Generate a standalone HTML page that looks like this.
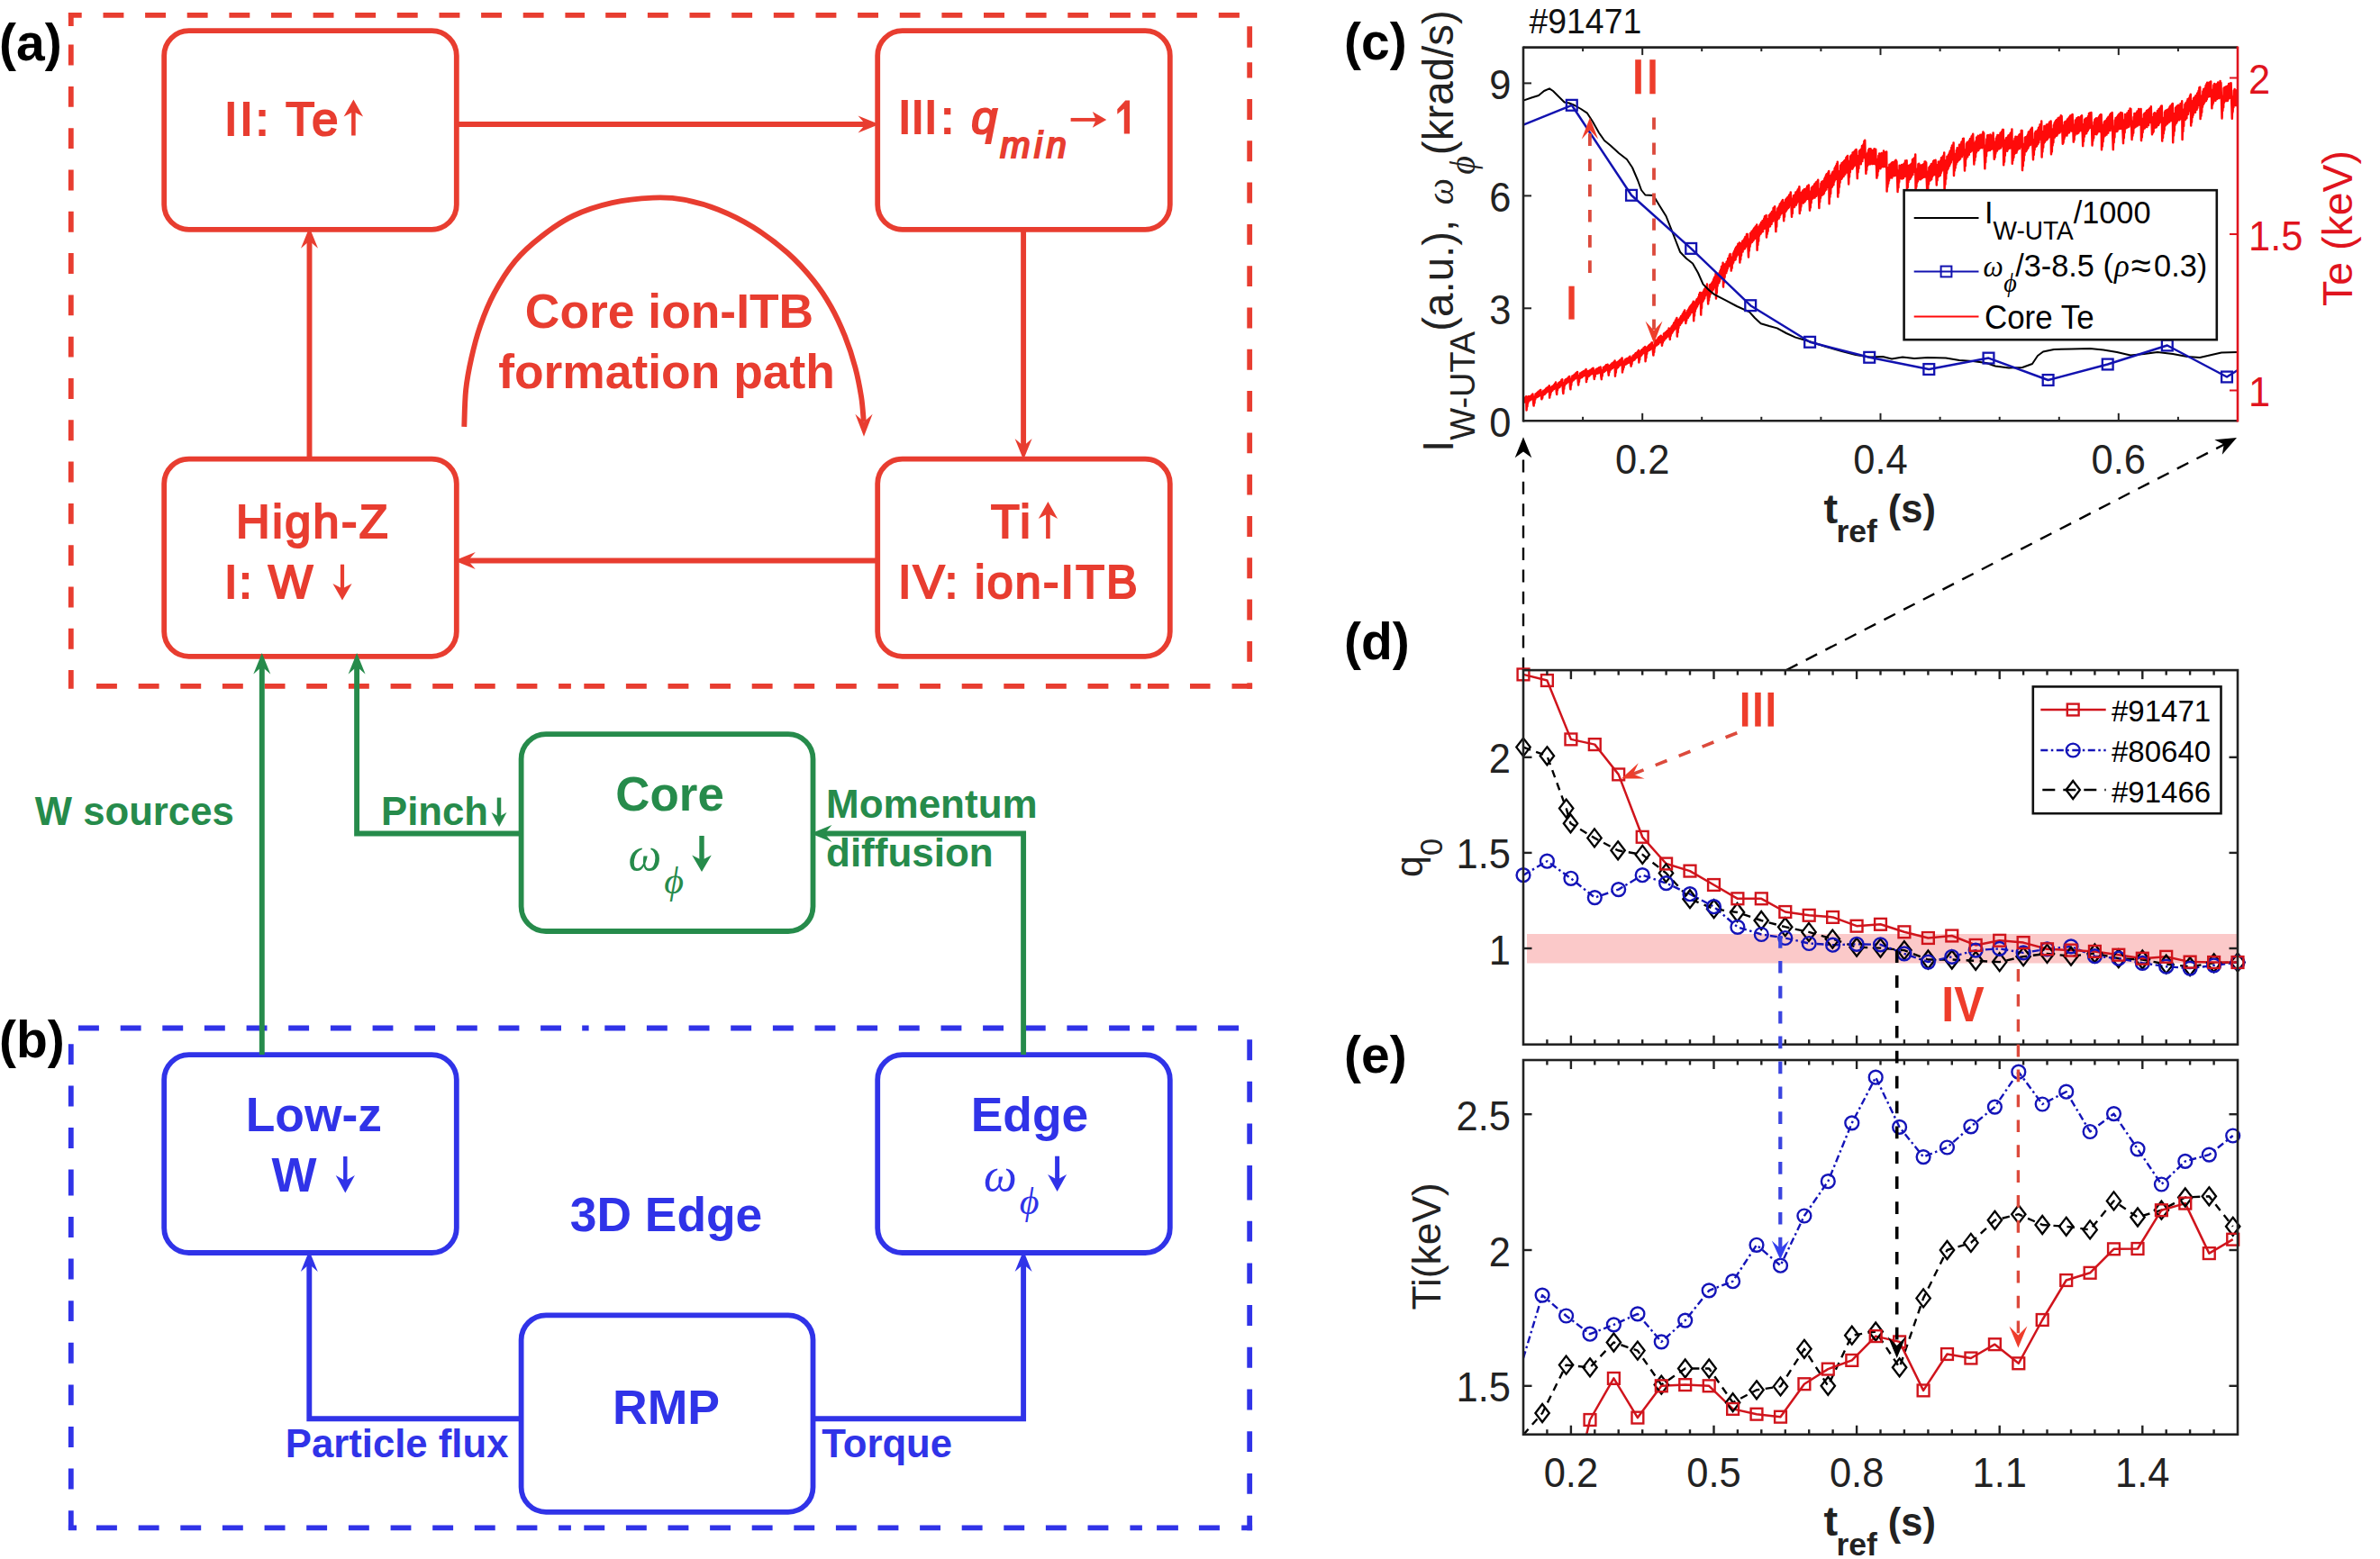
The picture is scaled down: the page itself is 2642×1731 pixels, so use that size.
<!DOCTYPE html>
<html><head><meta charset="utf-8"><title>figure</title>
<style>html,body{margin:0;padding:0;background:#fff}svg{display:block}text{white-space:pre}</style></head>
<body><svg xmlns="http://www.w3.org/2000/svg" width="2642" height="1731" viewBox="0 0 2642 1731">
<rect width="2642" height="1731" fill="#fff"/>
<path d="M75.9,16.9 H90.7 M114.5,16.9 H137.4 M161.1,16.9 H184 M207.7,16.9 H230.6 M254.4,16.9 H277.3 M301,16.9 H323.9 M347.6,16.9 H370.5 M394.2,16.9 H417.1 M440.8,16.9 H463.7 M487.5,16.9 H510.4 M534.1,16.9 H557 M580.7,16.9 H603.6 M627.4,16.9 H649 M672.2,16.9 H695.1 M718.9,16.9 H741.8 M765.5,16.9 H788.4 M812.2,16.9 H835.1 M858.8,16.9 H881.7 M905.5,16.9 H928.4 M952.1,16.9 H975 M998.8,16.9 H1021.6 M1045.4,16.9 H1068.3 M1092,16.9 H1115 M1138.7,16.9 H1161.6 M1185.3,16.9 H1208.2 M1232,16.9 H1254.9 M1268.1,16.9 H1282.7 M1306.2,16.9 H1328.9 M1352.8,16.9 H1375.9" fill="none" stroke="#E83D30" stroke-width="5.8"/>
<path d="M78.8,14 V28.9 M78.8,49.6 V72.5 M78.8,95.9 V118.8 M78.8,142.2 V165.1 M78.8,188.5 V211.4 M78.8,234.8 V257.7 M78.8,281.1 V304 M78.8,327.4 V350.3 M78.8,373.7 V396.6 M78.8,420 V442.9 M78.8,466.3 V489.2 M78.8,512.6 V535.5 M78.8,558.9 V581.8 M78.8,605.2 V628.1 M78.8,651.5 V674.4 M78.8,697.8 V720.7 M78.8,744 V764.7" fill="none" stroke="#E83D30" stroke-width="5.8"/>
<path d="M107,761.8 H129.9 M153.7,761.8 H176.6 M200.3,761.8 H223.2 M246.9,761.8 H269.8 M293.6,761.8 H316.5 M340.2,761.8 H363.1 M386.9,761.8 H409.8 M433.6,761.8 H456.4 M480.2,761.8 H503.1 M526.8,761.8 H549.7 M573.5,761.8 H596.4 M620.1,761.8 H633.9 M648.3,761.8 H671.2 M694.9,761.8 H717.8 M741.5,761.8 H764.4 M788.1,761.8 H811 M834.7,761.8 H857.6 M881.3,761.8 H904.2 M927.9,761.8 H950.8 M974.5,761.8 H997.4 M1021.1,761.8 H1044 M1067.7,761.8 H1090.6 M1114.3,761.8 H1137.2 M1160.9,761.8 H1183.8 M1207.5,761.8 H1230.4 M1254.7,761.8 H1266.5 M1274,761.8 H1297.6 M1321,761.8 H1343.5 M1367.5,761.8 H1390.1" fill="none" stroke="#E83D30" stroke-width="5.8"/>
<path d="M1387.2,29.3 V52.7 M1387.2,69.3 V86.6 M1387.2,110 V132.9 M1387.2,156.3 V179.2 M1387.2,202.6 V225.5 M1387.2,248.9 V271.8 M1387.2,295.2 V318.1 M1387.2,341.5 V364.4 M1387.2,387.8 V410.7 M1387.2,434.1 V457 M1387.2,480.4 V503.3 M1387.2,526.7 V549.6 M1387.2,573 V595.9 M1387.2,619.3 V642.2 M1387.2,665.6 V688.5 M1387.2,711.9 V734.8 M1387.2,758.2 V764.7" fill="none" stroke="#E83D30" stroke-width="5.8"/>
<path d="M87,1141.5 H109.9 M133.7,1141.5 H156.6 M180.3,1141.5 H203.2 M226.9,1141.5 H249.8 M273.6,1141.5 H296.5 M320.2,1141.5 H343.1 M366.9,1141.5 H389.8 M413.6,1141.5 H436.4 M460.2,1141.5 H483.1 M506.8,1141.5 H529.8 M553.5,1141.5 H576.4 M600.1,1141.5 H623 M646.2,1141.5 H653.6 M671.3,1141.5 H694.2 M717.9,1141.5 H740.8 M764.6,1141.5 H787.5 M811.2,1141.5 H834.1 M857.9,1141.5 H880.8 M904.5,1141.5 H927.4 M951.2,1141.5 H974.1 M997.8,1141.5 H1020.7 M1044.5,1141.5 H1067.4 M1091.1,1141.5 H1114 M1137.8,1141.5 H1160.7 M1184.4,1141.5 H1207.3 M1231.1,1141.5 H1254 M1268,1141.5 H1281.3 M1305.5,1141.5 H1328.5 M1352.1,1141.5 H1375.1" fill="none" stroke="#3033E8" stroke-width="5.8"/>
<path d="M78.8,1159.2 V1182.1 M78.8,1205.6 V1228.5 M78.8,1252 V1274.9 M78.8,1298.5 V1327.4 M78.8,1351 V1373.9 M78.8,1397.6 V1420.5 M78.8,1444.2 V1467.1 M78.8,1490.8 V1513.7 M78.8,1537.4 V1560.3 M78.8,1584 V1606.9 M78.8,1630.6 V1653.5 M78.8,1677.2 V1698.9" fill="none" stroke="#3033E8" stroke-width="5.8"/>
<path d="M75.9,1696.3 H85 M107,1696.3 H129.9 M153.7,1696.3 H176.6 M200.3,1696.3 H223.2 M246.9,1696.3 H269.8 M293.6,1696.3 H316.5 M340.2,1696.3 H363.1 M386.9,1696.3 H409.8 M433.6,1696.3 H456.4 M480.2,1696.3 H503.1 M526.8,1696.3 H549.7 M573.5,1696.3 H596.4 M620.1,1696.3 H633.9 M648.3,1696.3 H671.2 M694.9,1696.3 H717.8 M741.5,1696.3 H764.4 M788.1,1696.3 H811 M834.7,1696.3 H857.6 M881.3,1696.3 H904.2 M927.9,1696.3 H950.8 M974.5,1696.3 H997.4 M1021.1,1696.3 H1044 M1067.7,1696.3 H1090.6 M1114.3,1696.3 H1137.2 M1160.9,1696.3 H1183.8 M1207.5,1696.3 H1230.4 M1254.4,1696.3 H1267.9 M1284.1,1696.3 H1307.9 M1330.9,1696.3 H1353.9 M1378.2,1696.3 H1390.1" fill="none" stroke="#3033E8" stroke-width="5.8"/>
<path d="M1387.2,1154.3 V1177.2 M1387.2,1200.8 V1223.8 M1387.2,1247.4 V1270.3 M1387.2,1294.1 V1332.6 M1387.2,1355.7 V1378.6 M1387.2,1402.4 V1425.3 M1387.2,1449.1 V1472 M1387.2,1495.8 V1518.7 M1387.2,1542.5 V1565.4 M1387.2,1589.2 V1612.1 M1387.2,1635.9 V1658.8 M1387.2,1682.8 V1699.2" fill="none" stroke="#3033E8" stroke-width="5.8"/>
<rect x="182.2" y="34.2" width="324.6" height="220.6" rx="27.5" ry="27.5" fill="none" stroke="#E83D30" stroke-width="5.8"/>
<rect x="974.2" y="34.2" width="324.6" height="220.6" rx="27.5" ry="27.5" fill="none" stroke="#E83D30" stroke-width="5.8"/>
<rect x="182.2" y="509.6" width="324.6" height="219.2" rx="27.5" ry="27.5" fill="none" stroke="#E83D30" stroke-width="5.8"/>
<rect x="974.2" y="509.6" width="324.6" height="219.2" rx="27.5" ry="27.5" fill="none" stroke="#E83D30" stroke-width="5.8"/>
<rect x="578.6" y="815.2" width="323.9" height="218.8" rx="27.5" ry="27.5" fill="none" stroke="#268B4B" stroke-width="5.8"/>
<rect x="182.2" y="1171.2" width="324.6" height="219.8" rx="27.5" ry="27.5" fill="none" stroke="#3033E8" stroke-width="5.8"/>
<rect x="974.2" y="1171.2" width="324.6" height="219.8" rx="27.5" ry="27.5" fill="none" stroke="#3033E8" stroke-width="5.8"/>
<rect x="578.6" y="1460.3" width="323.9" height="218.5" rx="27.5" ry="27.5" fill="none" stroke="#3033E8" stroke-width="5.8"/>
<polyline points="507,138 961.9,138" fill="none" stroke="#E83D30" stroke-width="5.9" stroke-linejoin="miter" />
<polygon points="976,138 952.5,147.5 960.7,138 952.5,128.5" fill="#E83D30" />
<polyline points="1136.1,255 1136.1,496.4" fill="none" stroke="#E83D30" stroke-width="5.9" stroke-linejoin="miter" />
<polygon points="1136.1,510.5 1126.6,487 1136.1,495.2 1145.6,487" fill="#E83D30" />
<polyline points="974,622.5 518.4,622.5" fill="none" stroke="#E83D30" stroke-width="5.9" stroke-linejoin="miter" />
<polygon points="504.3,622.5 527.8,613 519.6,622.5 527.8,632" fill="#E83D30" />
<polyline points="343.5,509.5 343.5,266.4" fill="none" stroke="#E83D30" stroke-width="5.9" stroke-linejoin="miter" />
<polygon points="343.5,252.3 353,275.8 343.5,267.6 334,275.8" fill="#E83D30" />
<path d="M515.3,473.8 C515.6,467.1 515.8,446.1 517.1,433.4 C518.4,420.7 520.6,409.5 523.3,397.5 C526,385.5 529,373.6 533.2,361.6 C537.4,349.6 542.1,337.7 548.5,325.7 C554.9,313.7 563.1,300.3 571.8,289.8 C580.5,279.3 589.8,271.2 600.6,262.8 C611.4,254.4 623.3,245.8 636.5,239.5 C649.7,233.2 664.9,228.4 679.6,225.1 C694.3,221.8 711.3,220.2 724.5,219.6 C737.7,219 746.8,219.4 758.9,221.6 C771,223.8 784.6,227.6 797.4,232.7 C810.2,237.8 823,244 835.8,252 C848.6,260 863.1,270.9 874.3,280.8 C885.5,290.7 895.2,301.7 903.2,311.6 C911.2,321.6 916.7,330.2 922.5,340.5 C928.3,350.8 933.4,362 937.9,373.2 C942.4,384.4 946.4,396.7 949.4,407.9 C952.4,419.1 954.5,430.6 956.1,440.6 C957.7,450.6 958.3,463.4 958.8,468" fill="none" stroke="#E83D30" stroke-width="5.9"/>
<polygon points="959,484.8 949.4,459.8 959,468.6 968.6,459.8" fill="#E83D30" />
<polyline points="290.8,1171 290.8,739.1" fill="none" stroke="#268B4B" stroke-width="5.9" stroke-linejoin="miter" />
<polygon points="290.8,725 300.3,748.5 290.8,740.3 281.3,748.5" fill="#268B4B" />
<polyline points="578.5,925.5 396.1,925.5 396.1,739.1" fill="none" stroke="#268B4B" stroke-width="5.9" stroke-linejoin="miter" />
<polygon points="396.1,725 405.6,748.5 396.1,740.3 386.6,748.5" fill="#268B4B" />
<polyline points="1136.1,1171 1136.1,925.5 914.1,925.5" fill="none" stroke="#268B4B" stroke-width="5.9" stroke-linejoin="miter" />
<polygon points="900,925.5 923.5,916 915.3,925.5 923.5,935" fill="#268B4B" />
<polyline points="578.5,1575.2 343.3,1575.2 343.3,1402.6" fill="none" stroke="#3033E8" stroke-width="5.9" stroke-linejoin="miter" />
<polygon points="343.3,1388.5 352.8,1412 343.3,1403.8 333.8,1412" fill="#3033E8" />
<polyline points="902.5,1575.2 1136.1,1575.2 1136.1,1402.6" fill="none" stroke="#3033E8" stroke-width="5.9" stroke-linejoin="miter" />
<polygon points="1136.1,1388.5 1145.6,1412 1136.1,1403.8 1126.6,1412" fill="#3033E8" />
<text x="249" y="149.8" font-family="Liberation Sans" font-size="52.3" font-style="normal" fill="#E83D30" stroke="#E83D30" stroke-width="2.2" stroke-linejoin="miter" letter-spacing="2.8">II: Te</text>
<line x1="392.4" y1="150.5" x2="392.4" y2="122" stroke="#E83D30" stroke-width="4.6"/>
<polygon points="392.4,110.6 403.1,129.6 392.4,123.9 381.6,129.6" fill="#E83D30" />
<text x="997.1" y="147.5" font-family="Liberation Sans" font-size="52" font-style="normal" fill="#E83D30" stroke="#E83D30" stroke-width="2.2" stroke-linejoin="miter" letter-spacing="0">III</text>
<text x="1044.4" y="147.5" font-family="Liberation Sans" font-size="52" font-style="normal" fill="#E83D30" stroke="#E83D30" stroke-width="2.2" stroke-linejoin="miter" letter-spacing="0">:</text>
<text x="1078.2" y="147.5" font-family="Liberation Sans" font-size="52" font-style="italic" fill="#E83D30" stroke="#E83D30" stroke-width="2.2" stroke-linejoin="miter" letter-spacing="0">q</text>
<text x="1110.2" y="174.7" font-family="Liberation Sans" font-size="40" font-style="italic" fill="#E83D30" stroke="#E83D30" stroke-width="2.2" stroke-linejoin="miter" letter-spacing="4.6">min</text>
<line x1="1188.6" y1="132.9" x2="1220" y2="132.9" stroke="#E83D30" stroke-width="3.9"/>
<polygon points="1228.3,132.9 1212.8,141.7 1216.7,132.9 1212.8,124.1" fill="#E83D30" />
<path d="M1247.8,111.4 H1254.1 V148.6 H1247.8 V120.8 L1240.3,126.8 V121.3 L1249.3,111.4 Z" fill="#E83D30"/>
<text x="743" y="363.9" font-family="Liberation Sans" font-size="53.4" font-weight="bold" font-style="normal" fill="#E83D30" text-anchor="middle" >Core ion-ITB</text>
<text x="740" y="431.1" font-family="Liberation Sans" font-size="53.4" font-weight="bold" font-style="normal" fill="#E83D30" text-anchor="middle" >formation path</text>
<text x="262.1" y="596.9" font-family="Liberation Sans" font-size="52" font-style="normal" fill="#E83D30" stroke="#E83D30" stroke-width="2.2" stroke-linejoin="miter" letter-spacing="2.5">High-Z</text>
<text x="249" y="663.9" font-family="Liberation Sans" font-size="52" font-style="normal" fill="#E83D30" stroke="#E83D30" stroke-width="2.2" stroke-linejoin="miter" letter-spacing="1.9">I: W</text>
<line x1="380" y1="626.7" x2="380" y2="655.5" stroke="#E83D30" stroke-width="4.2"/>
<polygon points="380,666.6 369.4,648.1 380,653.6 390.6,648.1" fill="#E83D30" />
<text x="1100" y="596.9" font-family="Liberation Sans" font-size="52" font-style="normal" fill="#E83D30" stroke="#E83D30" stroke-width="2.2" stroke-linejoin="miter" letter-spacing="2.5">Ti</text>
<line x1="1163.4" y1="598" x2="1163.4" y2="568.4" stroke="#E83D30" stroke-width="4.6"/>
<polygon points="1163.4,557 1174.1,576 1163.4,570.3 1152.7,576" fill="#E83D30" />
<text x="997.1" y="663.7" font-family="Liberation Sans" font-size="52" font-style="normal" fill="#E83D30" stroke="#E83D30" stroke-width="2.2" stroke-linejoin="miter" letter-spacing="2.2">IV: ion-ITB</text>
<text x="38.8" y="916.3" font-family="Liberation Sans" font-size="43.7" font-weight="bold" font-style="normal" fill="#268B4B" text-anchor="start" >W sources</text>
<text x="423" y="916.3" font-family="Liberation Sans" font-size="43.7" font-weight="bold" font-style="normal" fill="#268B4B" text-anchor="start" >Pinch</text>
<line x1="554" y1="885.6" x2="554" y2="908.4" stroke="#268B4B" stroke-width="4.5"/>
<polygon points="554,918 545.5,902 554,906.8 562.5,902" fill="#268B4B" />
<text x="917" y="907.5" font-family="Liberation Sans" font-size="44" font-weight="bold" font-style="normal" fill="#268B4B" text-anchor="start" >Momentum</text>
<text x="917" y="962" font-family="Liberation Sans" font-size="44" font-weight="bold" font-style="normal" fill="#268B4B" text-anchor="start" >diffusion</text>
<text x="743.6" y="900.3" font-family="Liberation Sans" font-size="52.9" font-weight="bold" font-style="normal" fill="#268B4B" text-anchor="middle" >Core</text>
<text x="697.5" y="966.3" font-family="Liberation Serif" font-style="italic" font-size="52" fill="#268B4B">ω<tspan font-size="42" dx="3" dy="26">ϕ</tspan></text>
<line x1="779" y1="928" x2="779" y2="956.9" stroke="#268B4B" stroke-width="5.4"/>
<polygon points="779,968 768.2,949.5 779,955 789.8,949.5" fill="#268B4B" />
<text x="348.3" y="1255.5" font-family="Liberation Sans" font-size="53.4" font-weight="bold" font-style="normal" fill="#3033E8" text-anchor="middle" >Low-z</text>
<text x="301.5" y="1322.7" font-family="Liberation Sans" font-size="53" font-weight="bold" font-style="normal" fill="#3033E8" text-anchor="start" >W</text>
<line x1="383.3" y1="1284" x2="383.3" y2="1312.8" stroke="#3033E8" stroke-width="4.4"/>
<polygon points="383.3,1324.4 372.7,1305.1 383.3,1310.9 393.9,1305.1" fill="#3033E8" />
<text x="1143" y="1255.5" font-family="Liberation Sans" font-size="53.4" font-weight="bold" font-style="normal" fill="#3033E8" text-anchor="middle" >Edge</text>
<text x="1092" y="1321.5" font-family="Liberation Serif" font-style="italic" font-size="52" fill="#3033E8">ω<tspan font-size="42" dx="3" dy="26">ϕ</tspan></text>
<line x1="1173.6" y1="1283.7" x2="1173.6" y2="1311.6" stroke="#3033E8" stroke-width="5"/>
<polygon points="1173.6,1323 1163.1,1304 1173.6,1309.7 1184.1,1304" fill="#3033E8" />
<text x="739.5" y="1366.6" font-family="Liberation Sans" font-size="53.4" font-weight="bold" font-style="normal" fill="#3033E8" text-anchor="middle" >3D Edge</text>
<text x="739.5" y="1581" font-family="Liberation Sans" font-size="53.6" font-weight="bold" font-style="normal" fill="#3033E8" text-anchor="middle" >RMP</text>
<text x="316.8" y="1617.6" font-family="Liberation Sans" font-size="43.7" font-weight="bold" font-style="normal" fill="#3033E8" text-anchor="start" >Particle flux</text>
<text x="912.3" y="1617.6" font-family="Liberation Sans" font-size="43.7" font-weight="bold" font-style="normal" fill="#3033E8" text-anchor="start" >Torque</text>
<text x="-1" y="66.5" font-family="Liberation Sans" font-size="57" font-weight="bold" font-style="normal" fill="#000" text-anchor="start" >(a)</text>
<text x="-1" y="1174" font-family="Liberation Sans" font-size="57" font-weight="bold" font-style="normal" fill="#000" text-anchor="start" >(b)</text>
<clipPath id="clipc"><rect x="1691.0" y="52.6" width="793.0" height="414.7"/></clipPath>
<polyline points="1691,442.7 1691.4,447.2 1691.8,441.8 1692.2,446.5 1692.6,441.6 1693,446 1693.4,441.2 1693.8,445.3 1694.2,440.2 1694.6,455.4 1695,448.6 1695.4,451.5 1695.8,444.9 1696.2,447.4 1696.6,440.3 1697,445.4 1697.4,440.3 1697.8,444.6 1698.2,440.4 1698.6,444.5 1699,439.9 1699.4,443.7 1699.8,439.2 1700.2,443 1700.6,438.5 1701,442.9 1701.4,437.6 1701.8,442.4 1702.2,447.9 1702.6,450.6 1703,443.8 1703.4,447.6 1703.8,440.2 1704.2,443.6 1704.6,437.4 1705,441.6 1705.4,437.1 1705.8,441.1 1706.2,436.3 1706.6,440.9 1707,435.6 1707.4,440.2 1707.8,434.8 1708.2,440 1708.6,435 1709,438.8 1709.4,433.6 1709.8,438.4 1710.2,432.9 1710.6,437.7 1711,440.3 1711.4,443.3 1711.8,437.9 1712.2,441.8 1712.6,435.2 1713,438.8 1713.4,433.7 1713.8,437.7 1714.2,433.5 1714.6,438 1715,433 1715.4,437.2 1715.8,432.1 1716.2,436.2 1716.6,431.1 1717,435.5 1717.4,430.5 1717.8,434.8 1718.2,430 1718.6,434.2 1719,429.5 1719.4,434.2 1719.8,428.3 1720.2,441.6 1720.6,434.9 1721,438.6 1721.4,432.3 1721.8,435.6 1722.2,429.9 1722.6,434 1723,429 1723.4,433.7 1723.8,428.7 1724.2,432.5 1724.6,428 1725,432.1 1725.4,426.9 1725.8,431.2 1726.2,425.9 1726.6,430.1 1727,424.4 1727.4,429.2 1727.8,435 1728.2,437.9 1728.6,430.3 1729,433.2 1729.4,426.8 1729.8,430.9 1730.2,425.2 1730.6,430 1731,424.7 1731.4,429.9 1731.8,424.1 1732.2,428.6 1732.6,423.6 1733,427.3 1733.4,421.9 1733.8,426.6 1734.2,421.2 1734.6,425.7 1735,434.4 1735.4,437 1735.8,430 1736.2,431.9 1736.6,424.9 1737,428 1737.4,421.9 1737.8,426.5 1738.2,421.2 1738.6,426 1739,421.4 1739.4,425.3 1739.8,420.2 1740.2,424.3 1740.6,419.7 1741,423.8 1741.4,418.5 1741.8,422.8 1742.2,417.9 1742.6,422.7 1743,429.9 1743.4,432.3 1743.8,425.9 1744.2,427.8 1744.6,420.6 1745,424 1745.4,417.5 1745.8,422.3 1746.2,417.4 1746.6,422.3 1747,416.8 1747.4,421.4 1747.8,415.8 1748.2,420.4 1748.6,415.4 1749,420.3 1749.4,414.3 1749.8,419.5 1750.2,413.7 1750.6,418.8 1751,412.9 1751.4,417.9 1751.8,424 1752.2,427.5 1752.6,420.2 1753,423.9 1753.4,417 1753.8,420.3 1754.2,414.4 1754.6,419.5 1755,414.7 1755.4,419.3 1755.8,413.5 1756.2,419 1756.6,413.1 1757,417.9 1757.4,412.5 1757.8,417.5 1758.2,412.1 1758.6,417.1 1759,411.8 1759.4,416.3 1759.8,411.2 1760.2,415.6 1760.6,410.1 1761,424.1 1761.4,417.2 1761.8,421.1 1762.2,415.4 1762.6,418.5 1763,412.1 1763.4,416.9 1763.8,412.3 1764.2,417.4 1764.6,411.6 1765,416.5 1765.4,410.8 1765.8,415.8 1766.2,410.4 1766.6,415 1767,410 1767.4,415 1767.8,408.9 1768.2,414.4 1768.6,408.8 1769,413.5 1769.4,416.7 1769.8,421 1770.2,413.9 1770.6,418.2 1771,411.4 1771.4,414.9 1771.8,410 1772.2,414.8 1772.6,410.1 1773,414.7 1773.4,409.3 1773.8,414.4 1774.2,409.2 1774.6,414.3 1775,408.2 1775.4,413.6 1775.8,408.7 1776.2,412.8 1776.6,407.5 1777,412.4 1777.4,418.3 1777.8,421.2 1778.2,414.8 1778.6,417.6 1779,410.9 1779.4,413.8 1779.8,408.1 1780.2,412.5 1780.6,408 1781,412.7 1781.4,407.1 1781.8,412 1782.2,406.2 1782.6,411.5 1783,405.3 1783.4,410.7 1783.8,405.3 1784.2,409.9 1784.6,404.7 1785,408.7 1785.4,413.8 1785.8,416.8 1786.2,409.7 1786.6,413.3 1787,406.1 1787.4,410.7 1787.8,405.2 1788.2,410.4 1788.6,404.4 1789,409.2 1789.4,403.6 1789.8,409.1 1790.2,403.6 1790.6,408 1791,402.4 1791.4,407.7 1791.8,401.8 1792.2,406.6 1792.6,400.6 1793,417.8 1793.4,410.6 1793.8,413.7 1794.2,405.8 1794.6,409.4 1795,402.3 1795.4,407.4 1795.8,401.9 1796.2,407.9 1796.6,401.3 1797,406.7 1797.4,400.7 1797.8,405.7 1798.2,399.8 1798.6,405.4 1799,399.5 1799.4,403.8 1799.8,398.6 1800.2,403.4 1800.6,397.4 1801,413.5 1801.4,406.8 1801.8,410.5 1802.2,404.1 1802.6,408 1803,401.2 1803.4,404.5 1803.8,399.4 1804.2,404.8 1804.6,398.8 1805,404.5 1805.4,398.4 1805.8,403.9 1806.2,398 1806.6,403.1 1807,398.3 1807.4,403 1807.8,397.6 1808.2,402.6 1808.6,396.6 1809,401.8 1809.4,395.8 1809.8,401.2 1810.2,402.7 1810.6,406.7 1811,399.8 1811.4,404.5 1811.8,397.2 1812.2,401.2 1812.6,395.3 1813,400.1 1813.4,394.5 1813.8,399.7 1814.2,394.4 1814.6,399.4 1815,393.2 1815.4,398.1 1815.8,392.1 1816.2,397.5 1816.6,391.7 1817,396.8 1817.4,391.3 1817.8,395.9 1818.2,390.2 1818.6,395.6 1819,389 1819.4,402.4 1819.8,395.1 1820.2,399.5 1820.6,392.1 1821,395.6 1821.4,389.9 1821.8,394.9 1822.2,388.7 1822.6,393.8 1823,388 1823.4,392.8 1823.8,387.7 1824.2,392.1 1824.6,386.3 1825,391.2 1825.4,385.7 1825.8,390.6 1826.2,385.1 1826.6,401.3 1827,394.3 1827.4,397.4 1827.8,389.9 1828.2,393 1828.6,385.7 1829,390.1 1829.4,384.7 1829.8,389.2 1830.2,383.7 1830.6,389.1 1831,383.1 1831.4,388.6 1831.8,382.3 1832.2,388 1832.6,381.9 1833,387.1 1833.4,380.6 1833.8,386.6 1834.2,380.4 1834.6,385.3 1835,390.9 1835.4,394.6 1835.8,387.4 1836.2,391.1 1836.6,383.2 1837,386.2 1837.4,378.3 1837.8,384.2 1838.2,377.7 1838.6,383.3 1839,377.6 1839.4,383.3 1839.8,377.2 1840.2,381.9 1840.6,375.6 1841,382 1841.4,374.4 1841.8,380.3 1842.2,374.1 1842.6,380.2 1843,373.3 1843.4,379.3 1843.8,372.8 1844.2,377.8 1844.6,378.7 1845,383.8 1845.4,376.4 1845.8,380.7 1846.2,373.7 1846.6,378.8 1847,370.6 1847.4,377.9 1847.8,371.1 1848.2,376.3 1848.6,369.3 1849,376 1849.4,368.7 1849.8,375 1850.2,368.1 1850.6,374.3 1851,367.1 1851.4,373.4 1851.8,366.7 1852.2,372.6 1852.6,364.6 1853,371 1853.4,372.7 1853.8,376.9 1854.2,368.5 1854.6,372.9 1855,364.2 1855.4,370.5 1855.8,362.4 1856.2,369.8 1856.6,361.7 1857,368.3 1857.4,360.5 1857.8,367 1858.2,358.5 1858.6,366.1 1859,358.1 1859.4,364.9 1859.8,356 1860.2,363.3 1860.6,354.5 1861,361.5 1861.4,353 1861.8,373.6 1862.2,363.8 1862.6,369.2 1863,359.9 1863.4,364.3 1863.8,354.9 1864.2,360.9 1864.6,353.8 1865,361 1865.4,352.6 1865.8,359.5 1866.2,350.9 1866.6,358.8 1867,350.4 1867.4,357.5 1867.8,348.7 1868.2,356 1868.6,347.6 1869,355.4 1869.4,345.9 1869.8,353.6 1870.2,344.4 1870.6,352.7 1871,352.8 1871.4,358.9 1871.8,350.4 1872.2,355.9 1872.6,347.2 1873,353.1 1873.4,344.9 1873.8,352.9 1874.2,343.7 1874.6,351.5 1875,342.2 1875.4,350.5 1875.8,340.8 1876.2,349.3 1876.6,339.7 1877,347.2 1877.4,338.7 1877.8,346.9 1878.2,338.1 1878.6,345.7 1879,336.4 1879.4,343.5 1879.8,334.8 1880.2,356.2 1880.6,344.7 1881,350.7 1881.4,339.6 1881.8,345.7 1882.2,335.2 1882.6,343 1883,333.5 1883.4,341.4 1883.8,332.1 1884.2,340 1884.6,331.6 1885,338.3 1885.4,329.9 1885.8,336.6 1886.2,327 1886.6,335.3 1887,325.1 1887.4,334.3 1887.8,324.9 1888.2,349.6 1888.6,336.7 1889,342.3 1889.4,329.3 1889.8,335.5 1890.2,324.7 1890.6,334.1 1891,323.4 1891.4,332.4 1891.8,321.6 1892.2,331.3 1892.6,320.5 1893,328.5 1893.4,318.8 1893.8,327.4 1894.2,317.9 1894.6,325.1 1895,315.6 1895.4,323.6 1895.8,330.3 1896.2,337.4 1896.6,325.8 1897,333.5 1897.4,321.3 1897.8,329.7 1898.2,316.3 1898.6,326.8 1899,316.9 1899.4,325 1899.8,315 1900.2,325.2 1900.6,313.8 1901,322.6 1901.4,312.6 1901.8,321.4 1902.2,310.2 1902.6,319.4 1903,308.2 1903.4,317.9 1903.8,307.2 1904.2,315.1 1904.6,303.9 1905,331.4 1905.4,319.3 1905.8,325.2 1906.2,311.7 1906.6,317.7 1907,305.5 1907.4,314.2 1907.8,305.2 1908.2,314.2 1908.6,302.9 1909,312.2 1909.4,301.1 1909.8,309.8 1910.2,299.3 1910.6,307.4 1911,296.1 1911.4,306.3 1911.8,295.3 1912.2,302.8 1912.6,291.7 1913,318.6 1913.4,306.2 1913.8,313.6 1914.2,300.2 1914.6,307.6 1915,293.3 1915.4,303.5 1915.8,292.9 1916.2,303.1 1916.6,290.9 1917,300.8 1917.4,290 1917.8,298.2 1918.2,286.9 1918.6,296.1 1919,286.4 1919.4,295 1919.8,283.6 1920.2,293.2 1920.6,281.9 1921,291.4 1921.4,293.3 1921.8,300.6 1922.2,288.3 1922.6,297.7 1923,285.5 1923.4,293 1923.8,281.7 1924.2,291.5 1924.6,280.3 1925,289.2 1925.4,278.4 1925.8,288.8 1926.2,276.5 1926.6,288.1 1927,275 1927.4,285.5 1927.8,273.7 1928.2,283.7 1928.6,273.2 1929,282.7 1929.4,270.8 1929.8,282.5 1930.2,270.9 1930.6,280.3 1931,269.5 1931.4,291.5 1931.8,278.9 1932.2,288.2 1932.6,274.5 1933,283.8 1933.4,269.9 1933.8,278.9 1934.2,267.8 1934.6,279.5 1935,267.9 1935.4,276.8 1935.8,266.2 1936.2,276.5 1936.6,264.7 1937,276 1937.4,263.1 1937.8,274.3 1938.2,262.9 1938.6,272.4 1939,260 1939.4,270.1 1939.8,260.1 1940.2,270 1940.6,277.5 1941,285.4 1941.4,270.6 1941.8,278.5 1942.2,265.5 1942.6,273.7 1943,259.1 1943.4,270.4 1943.8,258.6 1944.2,268.8 1944.6,256.7 1945,268.7 1945.4,256.7 1945.8,267.5 1946.2,255.2 1946.6,266.8 1947,253.8 1947.4,265.2 1947.8,252.9 1948.2,264.7 1948.6,251.8 1949,264 1949.4,250.9 1949.8,263.2 1950.2,249.6 1950.6,277.7 1951,263.4 1951.4,271.9 1951.8,258.9 1952.2,267.6 1952.6,252.1 1953,261.8 1953.4,250.3 1953.8,260 1954.2,249 1954.6,259.5 1955,247.1 1955.4,258 1955.8,247.2 1956.2,256.8 1956.6,245.1 1957,256.9 1957.4,244.7 1957.8,254 1958.2,242.7 1958.6,253.7 1959,240.3 1959.4,251.2 1959.8,240.7 1960.2,250.1 1960.6,239.1 1961,263.5 1961.4,251.1 1961.8,259.7 1962.2,247.2 1962.6,256.8 1963,242.9 1963.4,252.3 1963.8,239 1964.2,251.1 1964.6,239.5 1965,251.3 1965.4,237.2 1965.8,248.8 1966.2,236.4 1966.6,248.7 1967,235 1967.4,245.5 1967.8,234.4 1968.2,245.6 1968.6,231.1 1969,242.8 1969.4,230.2 1969.8,241.5 1970.2,229.2 1970.6,241.1 1971,248.5 1971.4,257.1 1971.8,241.5 1972.2,251.6 1972.6,235.6 1973,244 1973.4,231.4 1973.8,242 1974.2,230.4 1974.6,242.6 1975,228.9 1975.4,240.9 1975.8,226.6 1976.2,238.8 1976.6,226.4 1977,237.3 1977.4,224.6 1977.8,235.7 1978.2,223.2 1978.6,236.5 1979,221.9 1979.4,233.5 1979.8,235.3 1980.2,245.2 1980.6,229.4 1981,240.8 1981.4,224.8 1981.8,235.3 1982.2,221.8 1982.6,234.5 1983,220.8 1983.4,233 1983.8,219.9 1984.2,231.7 1984.6,218.8 1985,230.9 1985.4,218.3 1985.8,230.3 1986.2,216.6 1986.6,227.7 1987,215.8 1987.4,226.3 1987.8,213.4 1988.2,225.9 1988.6,230.8 1989,240.8 1989.4,224.6 1989.8,236.9 1990.2,220.5 1990.6,230.1 1991,217.2 1991.4,230.1 1991.8,217.2 1992.2,229.4 1992.6,216 1993,227 1993.4,213.4 1993.8,227.6 1994.2,213.9 1994.6,225.8 1995,212.3 1995.4,223.9 1995.8,210.4 1996.2,222.3 1996.6,209.5 1997,221.2 1997.4,207.3 1997.8,236.9 1998.2,221.2 1998.6,233.7 1999,217.9 1999.4,229.4 1999.8,213.9 2000.2,225.1 2000.6,213.1 2001,224.2 2001.4,211.4 2001.8,225.4 2002.2,212.3 2002.6,224.2 2003,209.9 2003.4,224 2003.8,211.1 2004.2,222.4 2004.6,210.2 2005,221.4 2005.4,208.8 2005.8,220.5 2006.2,206.7 2006.6,220.7 2007,207 2007.4,220.5 2007.8,205.6 2008.2,220.3 2008.6,223.8 2009,233.6 2009.4,217.5 2009.8,230.5 2010.2,212.6 2010.6,225.1 2011,208.5 2011.4,220 2011.8,207.8 2012.2,220.5 2012.6,206.7 2013,219.6 2013.4,206.7 2013.8,219.6 2014.2,204.6 2014.6,219.5 2015,204 2015.4,216.7 2015.8,202.6 2016.2,217.7 2016.6,202.1 2017,215.2 2017.4,201.2 2017.8,213.7 2018.2,199.7 2018.6,214.9 2019,219 2019.4,231 2019.8,213.1 2020.2,224.3 2020.6,209.8 2021,219.7 2021.4,203.8 2021.8,216.5 2022.2,202.1 2022.6,216.7 2023,201.6 2023.4,215 2023.8,201.8 2024.2,215.6 2024.6,200.5 2025,214.2 2025.4,198.2 2025.8,212 2026.2,196.8 2026.6,210 2027,194.6 2027.4,210.5 2027.8,193.2 2028.2,207.9 2028.6,193.5 2029,206.9 2029.4,191.5 2029.8,205.5 2030.2,190 2030.6,226.3 2031,209.8 2031.4,218.7 2031.8,203.2 2032.2,215 2032.6,194.9 2033,208.1 2033.4,193.3 2033.8,207.4 2034.2,191.3 2034.6,205.8 2035,190.6 2035.4,205.3 2035.8,190.2 2036.2,201.7 2036.6,187.1 2037,199.7 2037.4,185.4 2037.8,199 2038.2,184 2038.6,196.9 2039,181.9 2039.4,195.2 2039.8,179.8 2040.2,218.6 2040.6,200.6 2041,214.1 2041.4,196.2 2041.8,207.8 2042.2,189.9 2042.6,202.7 2043,183.7 2043.4,198.7 2043.8,182.8 2044.2,198.7 2044.6,181 2045,197.5 2045.4,181.4 2045.8,195.4 2046.2,179.9 2046.6,195.7 2047,178.9 2047.4,193.6 2047.8,178.1 2048.2,193.6 2048.6,177.4 2049,190.1 2049.4,175.1 2049.8,191.5 2050.2,174 2050.6,189.6 2051,172.9 2051.4,187.7 2051.8,192.7 2052.2,204.4 2052.6,186.3 2053,196.5 2053.4,178.8 2053.8,191.3 2054.2,173.6 2054.6,187.1 2055,172.4 2055.4,186.2 2055.8,172.8 2056.2,187.6 2056.6,169.5 2057,186.1 2057.4,169 2057.8,184.6 2058.2,168.4 2058.6,183.2 2059,167.7 2059.4,183.4 2059.8,166.4 2060.2,181.2 2060.6,166 2061,180.5 2061.4,187.4 2061.8,198.1 2062.2,180.8 2062.6,191.1 2063,172.9 2063.4,187 2063.8,168 2064.2,182 2064.6,166.8 2065,180.7 2065.4,168 2065.8,182.3 2066.2,165.6 2066.6,179.3 2067,162 2067.4,178.9 2067.8,161.5 2068.2,174.9 2068.6,160.2 2069,175.1 2069.4,156.7 2069.8,171.6 2070.2,155.8 2070.6,170.9 2071,179 2071.4,192.8 2071.8,176 2072.2,188.7 2072.6,171.3 2073,184.2 2073.4,169.4 2073.8,182.1 2074.2,166.6 2074.6,182.5 2075,165.2 2075.4,182.2 2075.8,167.6 2076.2,182.3 2076.6,165.3 2077,181.5 2077.4,167.6 2077.8,180.8 2078.2,166.9 2078.6,182.1 2079,167.1 2079.4,180.5 2079.8,166.9 2080.2,181.8 2080.6,165.3 2081,180.9 2081.4,165.6 2081.8,182.3 2082.2,165.7 2082.6,180.3 2083,184.5 2083.4,197.6 2083.8,181.4 2084.2,195 2084.6,176.8 2085,190.1 2085.4,172.9 2085.8,185.1 2086.2,170.4 2086.6,185.4 2087,171.7 2087.4,187.2 2087.8,172.5 2088.2,185.8 2088.6,170.1 2089,184.9 2089.4,170.7 2089.8,185 2090.2,170.2 2090.6,185.3 2091,167.5 2091.4,182.7 2091.8,168.9 2092.2,184.7 2092.6,169.1 2093,185.2 2093.4,168.7 2093.8,182.9 2094.2,168.4 2094.6,212.4 2095,194.2 2095.4,207.4 2095.8,189.1 2096.2,203.8 2096.6,185.9 2097,200.4 2097.4,182.7 2097.8,197.6 2098.2,182.5 2098.6,197.2 2099,182.5 2099.4,196.8 2099.8,180.9 2100.2,197.5 2100.6,180.3 2101,195.4 2101.4,180.7 2101.8,194.9 2102.2,180 2102.6,195.2 2103,181.1 2103.4,195 2103.8,178.6 2104.2,194.5 2104.6,177.7 2105,192.9 2105.4,179.3 2105.8,191.9 2106.2,199.8 2106.6,212.9 2107,195.6 2107.4,208.3 2107.8,189.3 2108.2,202.4 2108.6,183.8 2109,197.8 2109.4,184.3 2109.8,198.1 2110.2,184.8 2110.6,198.2 2111,183 2111.4,198.4 2111.8,183.4 2112.2,197.9 2112.6,183.1 2113,197.7 2113.4,182.1 2113.8,195.3 2114.2,181.3 2114.6,195.7 2115,178.5 2115.4,195.2 2115.8,179.9 2116.2,193.3 2116.6,178.2 2117,211.1 2117.4,192.8 2117.8,208 2118.2,190.1 2118.6,201.9 2119,183.8 2119.4,196.6 2119.8,183.4 2120.2,199 2120.6,183.6 2121,197.4 2121.4,182.3 2121.8,196.1 2122.2,181.5 2122.6,193.4 2123,177.3 2123.4,194 2123.8,176.6 2124.2,191 2124.6,176.5 2125,190.4 2125.4,175 2125.8,188.7 2126.2,171.6 2126.6,211.7 2127,195.6 2127.4,207.4 2127.8,190.1 2128.2,202.7 2128.6,187.4 2129,200.9 2129.4,182.2 2129.8,198.3 2130.2,181.7 2130.6,198.1 2131,183.3 2131.4,199.3 2131.8,183.5 2132.2,199.1 2132.6,183.6 2133,197.4 2133.4,183.3 2133.8,197.7 2134.2,183 2134.6,196.3 2135,182.5 2135.4,196.7 2135.8,181.9 2136.2,196.3 2136.6,179.5 2137,196.6 2137.4,179.5 2137.8,194.8 2138.2,180.5 2138.6,194.1 2139,205.2 2139.4,215.3 2139.8,198.7 2140.2,209.8 2140.6,190.4 2141,204.4 2141.4,186 2141.8,199 2142.2,184.9 2142.6,200.4 2143,184 2143.4,199.6 2143.8,182.3 2144.2,199 2144.6,183.4 2145,196.3 2145.4,181.3 2145.8,194.6 2146.2,178.9 2146.6,194.3 2147,178.2 2147.4,193.9 2147.8,179.3 2148.2,192.5 2148.6,177.8 2149,190.5 2149.4,193.2 2149.8,205.5 2150.2,188.1 2150.6,200.2 2151,183.1 2151.4,196.1 2151.8,179.5 2152.2,195.9 2152.6,180.9 2153,194.2 2153.4,180.1 2153.8,194.8 2154.2,178.3 2154.6,192.2 2155,175.3 2155.4,190.1 2155.8,175.3 2156.2,188.7 2156.6,173.8 2157,186.2 2157.4,172.7 2157.8,186.2 2158.2,169.5 2158.6,213.1 2159,192.4 2159.4,204.6 2159.8,185.9 2160.2,198.7 2160.6,178 2161,192.1 2161.4,173.8 2161.8,188.4 2162.2,173.5 2162.6,187.1 2163,172 2163.4,185 2163.8,170.3 2164.2,183.8 2164.6,168 2165,181.7 2165.4,167 2165.8,180.1 2166.2,164.1 2166.6,177.4 2167,161.5 2167.4,175.6 2167.8,161.2 2168.2,174 2168.6,158.4 2169,194.9 2169.4,176.8 2169.8,189.4 2170.2,173.8 2170.6,186.5 2171,170.8 2171.4,182.7 2171.8,166.9 2172.2,180.1 2172.6,164.2 2173,179.5 2173.4,164.4 2173.8,178.3 2174.2,164.7 2174.6,177.6 2175,160.8 2175.4,176.9 2175.8,161.4 2176.2,175.9 2176.6,160.3 2177,174 2177.4,157.7 2177.8,174.1 2178.2,157.1 2178.6,171.7 2179,154.1 2179.4,170.9 2179.8,153.7 2180.2,169.2 2180.6,174.8 2181,189.5 2181.4,170.6 2181.8,184.2 2182.2,166.2 2182.6,176.5 2183,159.5 2183.4,172.5 2183.8,157.9 2184.2,174.1 2184.6,158.1 2185,171.4 2185.4,157.2 2185.8,171.8 2186.2,156.1 2186.6,168.7 2187,154 2187.4,168.7 2187.8,153.8 2188.2,167.8 2188.6,151.5 2189,166.9 2189.4,150.4 2189.8,165.8 2190.2,148.7 2190.6,165.8 2191,169.1 2191.4,182.4 2191.8,163.7 2192.2,178.1 2192.6,158.6 2193,174.2 2193.4,156.7 2193.8,169.4 2194.2,152.4 2194.6,167.7 2195,152.3 2195.4,166.5 2195.8,150.8 2196.2,166.9 2196.6,151.8 2197,165.4 2197.4,150.9 2197.8,164.6 2198.2,149.8 2198.6,163.8 2199,150.5 2199.4,163 2199.8,149.7 2200.2,164.3 2200.6,149.1 2201,163 2201.4,146.6 2201.8,162.4 2202.2,147.7 2202.6,162.9 2203,174.3 2203.4,187.2 2203.8,167.8 2204.2,180.2 2204.6,161.4 2205,173.3 2205.4,154.4 2205.8,165.9 2206.2,150.3 2206.6,167.5 2207,150.1 2207.4,166.7 2207.8,151.2 2208.2,166.8 2208.6,150.3 2209,166.9 2209.4,149.4 2209.8,164.4 2210.2,150.3 2210.6,165.7 2211,150.4 2211.4,163.9 2211.8,150.7 2212.2,164.8 2212.6,147.6 2213,165.6 2213.4,163 2213.8,176.7 2214.2,158.5 2214.6,174.8 2215,157.5 2215.4,170.4 2215.8,153.7 2216.2,165.5 2216.6,152 2217,167.5 2217.4,150 2217.8,165.8 2218.2,151.7 2218.6,164.8 2219,150.1 2219.4,165.2 2219.8,149.7 2220.2,163.7 2220.6,147.5 2221,164.3 2221.4,148.1 2221.8,162.1 2222.2,146.1 2222.6,162.2 2223,144.1 2223.4,160.2 2223.8,144 2224.2,183.3 2224.6,167 2225,179.8 2225.4,160.9 2225.8,172.7 2226.2,155.6 2226.6,166.8 2227,153.3 2227.4,167.5 2227.8,153 2228.2,167.8 2228.6,152.3 2229,165.7 2229.4,150.6 2229.8,165 2230.2,150.1 2230.6,163 2231,149.6 2231.4,164.4 2231.8,147.7 2232.2,160.9 2232.6,147 2233,160.9 2233.4,143.5 2233.8,181.7 2234.2,163.7 2234.6,177.9 2235,162.1 2235.4,174.6 2235.8,156.6 2236.2,171 2236.6,153.9 2237,169.6 2237.4,151.8 2237.8,169.8 2238.2,153.1 2238.6,169.4 2239,151.9 2239.4,166.6 2239.8,152.9 2240.2,165.5 2240.6,151.5 2241,164.1 2241.4,149.8 2241.8,165.1 2242.2,148.9 2242.6,163.3 2243,148.7 2243.4,161.4 2243.8,144.9 2244.2,159.7 2244.6,145.1 2245,189.1 2245.4,170 2245.8,184.2 2246.2,163.9 2246.6,178.5 2247,159.7 2247.4,172.3 2247.8,152.7 2248.2,167.9 2248.6,152.3 2249,168.1 2249.4,152.6 2249.8,166.7 2250.2,151.3 2250.6,165 2251,149.5 2251.4,164.4 2251.8,146.8 2252.2,162.2 2252.6,146 2253,160.8 2253.4,145.6 2253.8,161 2254.2,144.1 2254.6,157.2 2255,142.7 2255.4,157.8 2255.8,141.7 2256.2,156.4 2256.6,167 2257,177.3 2257.4,160.2 2257.8,172 2258.2,155.1 2258.6,166.1 2259,147.8 2259.4,161.2 2259.8,145.9 2260.2,162.7 2260.6,146.5 2261,162 2261.4,145.2 2261.8,160.2 2262.2,144.3 2262.6,159.4 2263,141.9 2263.4,157.9 2263.8,141.1 2264.2,154.8 2264.6,138.2 2265,152.7 2265.4,138 2265.8,152.7 2266.2,134.6 2266.6,174.4 2267,156.1 2267.4,168.5 2267.8,150.5 2268.2,163.6 2268.6,146.1 2269,158.6 2269.4,140.1 2269.8,157.6 2270.2,140.4 2270.6,156.2 2271,140.2 2271.4,154.5 2271.8,138.6 2272.2,155.3 2272.6,138.8 2273,154.3 2273.4,138 2273.8,152.6 2274.2,137.7 2274.6,152.3 2275,135.8 2275.4,151.2 2275.8,136.5 2276.2,150.6 2276.6,134.4 2277,171.3 2277.4,154.3 2277.8,168.6 2278.2,148.3 2278.6,161.5 2279,143.2 2279.4,158.3 2279.8,139 2280.2,152.8 2280.6,136.7 2281,152.4 2281.4,135.2 2281.8,149.8 2282.2,134 2282.6,150.8 2283,133.1 2283.4,150.5 2283.8,132.7 2284.2,148.7 2284.6,131.3 2285,146.6 2285.4,130.8 2285.8,147.6 2286.2,131.7 2286.6,147.1 2287,130.3 2287.4,145.4 2287.8,128.2 2288.2,143.6 2288.6,129.1 2289,144 2289.4,146.5 2289.8,159.7 2290.2,142.4 2290.6,158.4 2291,139.3 2291.4,154.3 2291.8,135.8 2292.2,151.8 2292.6,135 2293,149.1 2293.4,135 2293.8,148 2294.2,134.2 2294.6,150.4 2295,132.4 2295.4,147.5 2295.8,133.5 2296.2,147.4 2296.6,130.7 2297,147.2 2297.4,129.7 2297.8,144.8 2298.2,128.6 2298.6,144.3 2299,128.8 2299.4,145.5 2299.8,127.7 2300.2,142.6 2300.6,127 2301,142.5 2301.4,143.9 2301.8,157.6 2302.2,140.6 2302.6,155.4 2303,138.4 2303.4,150.3 2303.8,133.5 2304.2,148.3 2304.6,133.8 2305,147.2 2305.4,131.3 2305.8,148.5 2306.2,132.8 2306.6,146.7 2307,130.2 2307.4,147.4 2307.8,130.2 2308.2,145.7 2308.6,130.7 2309,145.1 2309.4,130.4 2309.8,145 2310.2,128.9 2310.6,144.8 2311,128.2 2311.4,143 2311.8,149.4 2312.2,162.1 2312.6,144.4 2313,156.9 2313.4,138.1 2313.8,151.6 2314.2,132.8 2314.6,147.8 2315,131.8 2315.4,148.5 2315.8,131.9 2316.2,147.9 2316.6,130.9 2317,146 2317.4,131.1 2317.8,144.6 2318.2,129.1 2318.6,143.3 2319,125.9 2319.4,141.7 2319.8,125.5 2320.2,141.7 2320.6,125.7 2321,139.8 2321.4,124.9 2321.8,140.1 2322.2,145.9 2322.6,161.4 2323,142.4 2323.4,156.4 2323.8,139.7 2324.2,153.3 2324.6,135.6 2325,147.6 2325.4,132.7 2325.8,148.7 2326.2,132 2326.6,147.7 2327,131.3 2327.4,149.2 2327.8,133.3 2328.2,147.6 2328.6,131.4 2329,146.2 2329.4,130.8 2329.8,145.5 2330.2,129.5 2330.6,145.7 2331,128 2331.4,146.2 2331.8,127.3 2332.2,143.8 2332.6,127.2 2333,166.2 2333.4,149.6 2333.8,162.5 2334.2,144.3 2334.6,157.2 2335,138.5 2335.4,152.4 2335.8,135.6 2336.2,148.6 2336.6,134.4 2337,150.5 2337.4,135.3 2337.8,148.6 2338.2,133.4 2338.6,149.4 2339,132.1 2339.4,147.2 2339.8,130.8 2340.2,147.6 2340.6,129.8 2341,144.7 2341.4,129.7 2341.8,143.3 2342.2,127.4 2342.6,144.9 2343,126.2 2343.4,141.1 2343.8,126.7 2344.2,141.5 2344.6,125.1 2345,139.2 2345.4,154.5 2345.8,166.1 2346.2,148.1 2346.6,158.3 2347,140.6 2347.4,152.5 2347.8,133.5 2348.2,146 2348.6,131 2349,145 2349.4,131.3 2349.8,145.9 2350.2,130.1 2350.6,145.4 2351,128.4 2351.4,143.5 2351.8,127.6 2352.2,142.9 2352.6,126.4 2353,143.1 2353.4,127.2 2353.8,142.6 2354.2,125 2354.6,142.8 2355,125.6 2355.4,139.1 2355.8,125.5 2356.2,140.8 2356.6,148.1 2357,159.1 2357.4,142.5 2357.8,153.1 2358.2,133.2 2358.6,147.3 2359,127 2359.4,142.3 2359.8,128.1 2360.2,142.2 2360.6,128.4 2361,141.8 2361.4,125.4 2361.8,141.2 2362.2,125.4 2362.6,140.9 2363,123 2363.4,140.5 2363.8,122.7 2364.2,138 2364.6,120.4 2365,136.4 2365.4,121 2365.8,136.2 2366.2,141.8 2366.6,154.9 2367,137.6 2367.4,150.8 2367.8,134.4 2368.2,147.6 2368.6,130 2369,142.3 2369.4,125.9 2369.8,141.4 2370.2,126.7 2370.6,140.3 2371,126.1 2371.4,140.5 2371.8,125 2372.2,139.4 2372.6,123.4 2373,139.4 2373.4,124.7 2373.8,138.3 2374.2,121.1 2374.6,136.4 2375,121.6 2375.4,138.6 2375.8,121.6 2376.2,136.9 2376.6,121 2377,156.1 2377.4,138.8 2377.8,152.5 2378.2,133.9 2378.6,147 2379,131.8 2379.4,143.5 2379.8,127.1 2380.2,142.1 2380.6,125.7 2381,142.3 2381.4,125.8 2381.8,140.7 2382.2,124.8 2382.6,139.5 2383,123.1 2383.4,140.9 2383.8,124.2 2384.2,138.5 2384.6,121.9 2385,139.1 2385.4,121.6 2385.8,136.1 2386.2,120.4 2386.6,135.2 2387,120 2387.4,135.9 2387.8,118.3 2388.2,135.3 2388.6,136.1 2389,149.2 2389.4,132.7 2389.8,147.5 2390.2,130 2390.6,146.2 2391,126.3 2391.4,140.6 2391.8,125.2 2392.2,141.7 2392.6,125.4 2393,141.5 2393.4,126.2 2393.8,141.2 2394.2,126.2 2394.6,139.7 2395,123.1 2395.4,137.7 2395.8,123.8 2396.2,138.8 2396.6,121 2397,136.8 2397.4,121.4 2397.8,134.3 2398.2,119.6 2398.6,135.6 2399,117.7 2399.4,134.3 2399.8,117.4 2400.2,156.6 2400.6,138.5 2401,153 2401.4,136.4 2401.8,148.3 2402.2,130.7 2402.6,144.4 2403,124.5 2403.4,139.6 2403.8,123.1 2404.2,139 2404.6,122.5 2405,137.8 2405.4,122.3 2405.8,137.4 2406.2,121.8 2406.6,136.4 2407,121.5 2407.4,135.3 2407.8,120.4 2408.2,135.5 2408.6,118.8 2409,133.8 2409.4,117.6 2409.8,134.1 2410.2,117.2 2410.6,132.2 2411,115.7 2411.4,132.4 2411.8,115.1 2412.2,158.3 2412.6,138.3 2413,150.4 2413.4,133.3 2413.8,145.5 2414.2,125.9 2414.6,138.7 2415,119.7 2415.4,135.6 2415.8,119.1 2416.2,136.4 2416.6,117.8 2417,134.4 2417.4,118.4 2417.8,133 2418.2,116.8 2418.6,131.8 2419,117.3 2419.4,133.2 2419.8,117.3 2420.2,132 2420.6,114.9 2421,130.7 2421.4,114.8 2421.8,128.7 2422.2,112.2 2422.6,154.9 2423,135.5 2423.4,146 2423.8,127.3 2424.2,140 2424.6,121.4 2425,133.3 2425.4,116.1 2425.8,133 2426.2,114.5 2426.6,131.8 2427,115.2 2427.4,131.1 2427.8,112.3 2428.2,127.3 2428.6,110.1 2429,126.8 2429.4,110.1 2429.8,123.5 2430.2,109 2430.6,122.6 2431,106.5 2431.4,120 2431.8,104.7 2432.2,139.5 2432.6,122.8 2433,135.7 2433.4,116.5 2433.8,130.2 2434.2,112.1 2434.6,127.8 2435,109.2 2435.4,125.2 2435.8,108.2 2436.2,124.6 2436.6,107.9 2437,124.8 2437.4,106.2 2437.8,121.4 2438.2,106.8 2438.6,121.7 2439,104.1 2439.4,119.6 2439.8,102.8 2440.2,116.9 2440.6,100.7 2441,116 2441.4,97.3 2441.8,113.6 2442.2,96.7 2442.6,131.9 2443,113.4 2443.4,128.7 2443.8,111.2 2444.2,124.6 2444.6,106.3 2445,118.7 2445.4,101.4 2445.8,116 2446.2,98.9 2446.6,114.8 2447,98.7 2447.4,113.3 2447.8,97.8 2448.2,110.3 2448.6,95 2449,111.9 2449.4,93.3 2449.8,110.1 2450.2,91.7 2450.6,107.8 2451,93 2451.4,107.4 2451.8,92.3 2452.2,107.1 2452.6,91.4 2453,106.6 2453.4,91.5 2453.8,106.9 2454.2,90.4 2454.6,105.8 2455,104.3 2455.4,120.2 2455.8,103.6 2456.2,116.1 2456.6,99.7 2457,114 2457.4,94.6 2457.8,111.6 2458.2,93 2458.6,111.6 2459,93.4 2459.4,111.7 2459.8,96 2460.2,110.1 2460.6,93.6 2461,110 2461.4,92.9 2461.8,109.2 2462.2,91.4 2462.6,107.1 2463,92.1 2463.4,109.1 2463.8,93 2464.2,106 2464.6,89.9 2465,108 2465.4,91.9 2465.8,104.6 2466.2,117.6 2466.6,131.4 2467,110.7 2467.4,123 2467.8,106.8 2468.2,119.2 2468.6,97.9 2469,113.6 2469.4,97.1 2469.8,112.3 2470.2,97.5 2470.6,111.6 2471,96.3 2471.4,112 2471.8,96.1 2472.2,112 2472.6,96.1 2473,111.7 2473.4,95 2473.8,109.6 2474.2,92.9 2474.6,108.6 2475,94.3 2475.4,108.1 2475.8,92.6 2476.2,108.9 2476.6,92.3 2477,106.5 2477.4,118.2 2477.8,131.8 2478.2,113 2478.6,124.4 2479,107.2 2479.4,119.3 2479.8,100.5 2480.2,116.3 2480.6,99.1 2481,116.1 2481.4,101.5 2481.8,117.1 2482.2,101.1 2482.6,115.2 2483,100.3 2483.4,117.3 2483.8,100.1" fill="none" stroke="#FF0A0A" stroke-width="2.5" stroke-linejoin="round" clip-path="url(#clipc)"/>
<polyline points="1691,111.6 1700,108.5 1708,106 1714,101 1720,98.3 1724,101 1730,107 1736.6,113.5 1742,114.5 1748,117 1755,121 1762,125.7 1768,135 1775,147.5 1781,156 1788,161.7 1797,170 1806,177 1812,186 1818,200 1822,211 1826.4,216.5 1835.4,217 1842,228 1849.5,240 1857,259 1865,279.7 1872,287 1879,292.5 1885,303 1890.6,315.6 1897,322 1903.4,327.2 1916,333.6 1928,340 1942,346.4 1948,353 1954.7,359.2 1964,362 1972.7,364.4 1983,370 1993.2,374.6 2009,379.3 2027,385 2044.5,390 2060,394 2075,396.5 2090,396 2100,398.5 2112,396.5 2125,398 2140,397 2160,397.5 2175,400 2190,401 2205,403 2215,406.5 2230,408.5 2245,408 2256,404 2262,395 2268,390.5 2280,388 2300,387.5 2320,387 2335,388.5 2350,391 2365,394.5 2380,393 2395,391 2412,393 2428,396 2442,397 2455,394 2466,391.5 2484,391" fill="none" stroke="#000" stroke-width="2" stroke-linejoin="round" />
<polyline points="1691,138.6 1744.8,116.8 1811,216.8 1877.2,275.9 1943.2,339.2 2009.1,379.8 2075.2,396.8 2141.3,410 2207.5,397.6 2273.6,422 2339.7,404.5 2405.8,383.5 2472,418.5 2484,411" fill="none" stroke="#1212B0" stroke-width="2.5" stroke-linejoin="round" />
<rect x="1738.9" y="110.9" width="11.8" height="11.8" fill="none" stroke="#1212B0" stroke-width="2.3"/>
<rect x="1805.1" y="210.9" width="11.8" height="11.8" fill="none" stroke="#1212B0" stroke-width="2.3"/>
<rect x="1871.3" y="270" width="11.8" height="11.8" fill="none" stroke="#1212B0" stroke-width="2.3"/>
<rect x="1937.3" y="333.3" width="11.8" height="11.8" fill="none" stroke="#1212B0" stroke-width="2.3"/>
<rect x="2003.2" y="373.9" width="11.8" height="11.8" fill="none" stroke="#1212B0" stroke-width="2.3"/>
<rect x="2069.3" y="390.9" width="11.8" height="11.8" fill="none" stroke="#1212B0" stroke-width="2.3"/>
<rect x="2135.4" y="404.1" width="11.8" height="11.8" fill="none" stroke="#1212B0" stroke-width="2.3"/>
<rect x="2201.6" y="391.7" width="11.8" height="11.8" fill="none" stroke="#1212B0" stroke-width="2.3"/>
<rect x="2267.7" y="416.1" width="11.8" height="11.8" fill="none" stroke="#1212B0" stroke-width="2.3"/>
<rect x="2333.8" y="398.6" width="11.8" height="11.8" fill="none" stroke="#1212B0" stroke-width="2.3"/>
<rect x="2399.9" y="377.6" width="11.8" height="11.8" fill="none" stroke="#1212B0" stroke-width="2.3"/>
<rect x="2466.1" y="412.6" width="11.8" height="11.8" fill="none" stroke="#1212B0" stroke-width="2.3"/>
<line x1="1691" y1="52.6" x2="2484" y2="52.6" stroke="#222222" stroke-width="2.6" />
<line x1="1691" y1="467.3" x2="2484" y2="467.3" stroke="#222222" stroke-width="2.6" />
<line x1="1691" y1="51.5" x2="1691" y2="468.4" stroke="#222222" stroke-width="2.6" />
<line x1="2484" y1="51.5" x2="2484" y2="468.4" stroke="#E0141E" stroke-width="2.6" />
<line x1="1757.1" y1="52.6" x2="1757.1" y2="57.1" stroke="#222222" stroke-width="2" />
<line x1="1757.1" y1="467.3" x2="1757.1" y2="462.8" stroke="#222222" stroke-width="2" />
<line x1="1823.2" y1="52.6" x2="1823.2" y2="61.1" stroke="#222222" stroke-width="2" />
<line x1="1823.2" y1="467.3" x2="1823.2" y2="458.8" stroke="#222222" stroke-width="2" />
<line x1="1889.2" y1="52.6" x2="1889.2" y2="57.1" stroke="#222222" stroke-width="2" />
<line x1="1889.2" y1="467.3" x2="1889.2" y2="462.8" stroke="#222222" stroke-width="2" />
<line x1="1955.3" y1="52.6" x2="1955.3" y2="57.1" stroke="#222222" stroke-width="2" />
<line x1="1955.3" y1="467.3" x2="1955.3" y2="462.8" stroke="#222222" stroke-width="2" />
<line x1="2021.4" y1="52.6" x2="2021.4" y2="57.1" stroke="#222222" stroke-width="2" />
<line x1="2021.4" y1="467.3" x2="2021.4" y2="462.8" stroke="#222222" stroke-width="2" />
<line x1="2087.5" y1="52.6" x2="2087.5" y2="61.1" stroke="#222222" stroke-width="2" />
<line x1="2087.5" y1="467.3" x2="2087.5" y2="458.8" stroke="#222222" stroke-width="2" />
<line x1="2153.6" y1="52.6" x2="2153.6" y2="57.1" stroke="#222222" stroke-width="2" />
<line x1="2153.6" y1="467.3" x2="2153.6" y2="462.8" stroke="#222222" stroke-width="2" />
<line x1="2219.7" y1="52.6" x2="2219.7" y2="57.1" stroke="#222222" stroke-width="2" />
<line x1="2219.7" y1="467.3" x2="2219.7" y2="462.8" stroke="#222222" stroke-width="2" />
<line x1="2285.8" y1="52.6" x2="2285.8" y2="57.1" stroke="#222222" stroke-width="2" />
<line x1="2285.8" y1="467.3" x2="2285.8" y2="462.8" stroke="#222222" stroke-width="2" />
<line x1="2351.8" y1="52.6" x2="2351.8" y2="61.1" stroke="#222222" stroke-width="2" />
<line x1="2351.8" y1="467.3" x2="2351.8" y2="458.8" stroke="#222222" stroke-width="2" />
<line x1="2417.9" y1="52.6" x2="2417.9" y2="57.1" stroke="#222222" stroke-width="2" />
<line x1="2417.9" y1="467.3" x2="2417.9" y2="462.8" stroke="#222222" stroke-width="2" />
<line x1="1691" y1="342.3" x2="1700" y2="342.3" stroke="#222222" stroke-width="2" />
<line x1="1691" y1="217.4" x2="1700" y2="217.4" stroke="#222222" stroke-width="2" />
<line x1="1691" y1="92.4" x2="1700" y2="92.4" stroke="#222222" stroke-width="2" />
<line x1="2484" y1="433.5" x2="2475" y2="433.5" stroke="#E0141E" stroke-width="2" />
<line x1="2484" y1="260" x2="2475" y2="260" stroke="#E0141E" stroke-width="2" />
<line x1="2484" y1="86.5" x2="2475" y2="86.5" stroke="#E0141E" stroke-width="2" />
<text transform="translate(1677.5,484.8) scale(1,1.045)" font-family="Liberation Sans" font-size="43.5" font-weight="normal" font-style="normal" fill="#222222" text-anchor="end" >0</text>
<text transform="translate(1677.5,359.8) scale(1,1.045)" font-family="Liberation Sans" font-size="43.5" font-weight="normal" font-style="normal" fill="#222222" text-anchor="end" >3</text>
<text transform="translate(1677.5,234.9) scale(1,1.045)" font-family="Liberation Sans" font-size="43.5" font-weight="normal" font-style="normal" fill="#222222" text-anchor="end" >6</text>
<text transform="translate(1677.5,109.9) scale(1,1.045)" font-family="Liberation Sans" font-size="43.5" font-weight="normal" font-style="normal" fill="#222222" text-anchor="end" >9</text>
<text transform="translate(2496,451) scale(1,1.045)" font-family="Liberation Sans" font-size="43.5" font-weight="normal" font-style="normal" fill="#E0141E" text-anchor="start" >1</text>
<text transform="translate(2496,277.5) scale(1,1.045)" font-family="Liberation Sans" font-size="43.5" font-weight="normal" font-style="normal" fill="#E0141E" text-anchor="start" >1.5</text>
<text transform="translate(2496,104) scale(1,1.045)" font-family="Liberation Sans" font-size="43.5" font-weight="normal" font-style="normal" fill="#E0141E" text-anchor="start" >2</text>
<text transform="translate(1823.2,525.6) scale(1,1.045)" font-family="Liberation Sans" font-size="43.5" font-weight="normal" font-style="normal" fill="#222222" text-anchor="middle" >0.2</text>
<text transform="translate(2087.5,525.6) scale(1,1.045)" font-family="Liberation Sans" font-size="43.5" font-weight="normal" font-style="normal" fill="#222222" text-anchor="middle" >0.4</text>
<text transform="translate(2351.8,525.6) scale(1,1.045)" font-family="Liberation Sans" font-size="43.5" font-weight="normal" font-style="normal" fill="#222222" text-anchor="middle" >0.6</text>
<text transform="translate(1697.5,36.9) scale(1,1.06)" font-family="Liberation Sans" font-size="37.4" font-weight="normal" font-style="normal" fill="#111" text-anchor="start" >#91471</text>
<text x="2024.4" y="580.6" font-family="Liberation Sans" font-size="47" font-weight="bold" font-style="normal" fill="#222222" text-anchor="start" >t</text>
<text x="2038.5" y="602.3" font-family="Liberation Sans" font-size="35.5" font-weight="bold" font-style="normal" fill="#222222" text-anchor="start" >ref</text>
<text x="2095.8" y="580.1" font-family="Liberation Sans" font-size="43.5" font-weight="bold" font-style="normal" fill="#222222" text-anchor="start" >(s)</text>
<text transform="translate(1612.5,502) rotate(-90)" font-family="Liberation Sans" font-size="47.5" fill="#222222">I<tspan font-size="38" dy="24">W-UTA</tspan><tspan dy="-24">(a.u.), </tspan><tspan font-family="Liberation Serif" font-style="italic" font-size="42" dx="3">ω</tspan><tspan font-family="Liberation Serif" font-style="italic" font-size="40" dy="24" dx="4">ϕ</tspan><tspan dy="-24" dx="1">(krad/s)</tspan></text>
<text transform="translate(2611,253.5) rotate(-90)" font-family="Liberation Sans" font-size="46.5" fill="#E0141E" text-anchor="middle">Te (keV)</text>
<rect x="2113.6" y="211.2" width="347.2" height="166" fill="#fff" stroke="#111" stroke-width="2.6"/>
<line x1="2124.7" y1="242" x2="2196.5" y2="242" stroke="#000" stroke-width="2" />
<line x1="2124.7" y1="301.5" x2="2196.5" y2="301.5" stroke="#1212B0" stroke-width="2.2" />
<rect x="2154.6" y="295.6" width="11.8" height="11.8" fill="none" stroke="#1212B0" stroke-width="2"/>
<line x1="2124.7" y1="351.5" x2="2196.5" y2="351.5" stroke="#FF0A0A" stroke-width="2" />
<text transform="translate(2203,248.2) scale(1,1.04)" font-family="Liberation Sans" font-size="34.3" fill="#000">I<tspan font-size="28" dy="17.5">W-UTA</tspan><tspan dy="-17.5">/1000</tspan></text>
<text transform="translate(2201.5,306.8) scale(1,1.04)" font-family="Liberation Sans" font-size="34.3" fill="#000"><tspan font-family="Liberation Serif" font-style="italic" font-size="31.5">ω</tspan><tspan font-family="Liberation Serif" font-style="italic" font-size="28" dy="17" dx="0.5">ϕ</tspan><tspan dy="-17" dx="-1.5">/3-8.5 (</tspan><tspan font-family="Liberation Serif" font-style="italic" font-size="35" dx="1">ρ</tspan><tspan font-size="40" dy="1.8" dx="2">≈</tspan><tspan dy="-1.8" dx="3.5">0.3)</tspan></text>
<text transform="translate(2203,364.6) scale(1,1.04)" font-family="Liberation Sans" font-size="34.9" fill="#000">Core Te</text>
<rect x="1815.2" y="66.2" width="6.6" height="38.1" fill="#EE3D2B"/>
<rect x="1831.3" y="66.2" width="6.4" height="38.1" fill="#EE3D2B"/>
<rect x="1741.4" y="317.7" width="6.3" height="36.9" fill="#EE3D2B"/>
<line x1="1764.9" y1="302.9" x2="1764.9" y2="148" stroke="#DC4A3C" stroke-width="3.8" stroke-dasharray="13.6 14.6" stroke-dashoffset="0" />
<polygon points="1764.9,130.4 1774.1,154.4 1764.9,144.6 1755.8,154.4" fill="#EE3D2B" />
<line x1="1836" y1="130.4" x2="1836" y2="366" stroke="#DC4A3C" stroke-width="3.8" stroke-dasharray="13.4 14.6" stroke-dashoffset="0" />
<polygon points="1836,381.2 1826.5,356.5 1836,366.9 1845.5,356.5" fill="#EE3D2B" />
<line x1="1691" y1="744" x2="1691" y2="500" stroke="#000" stroke-width="2.4" stroke-dasharray="14 10.4" stroke-dashoffset="0" />
<polygon points="1691,485.3 1700.3,508.3 1691,501.4 1681.7,508.3" fill="#000" />
<line x1="1983" y1="744" x2="2470" y2="493" stroke="#000" stroke-width="2.4" stroke-dasharray="14 10.4" stroke-dashoffset="0" />
<polygon points="2483,486 2466.8,504.8 2468.7,493.4 2458.3,488.2" fill="#000" />
<rect x="1695" y="1037" width="789.0" height="32.5" fill="#FBC9C9"/>
<polyline points="1691,829.6 1717.4,839.3 1738.7,897.6 1743.5,914.3 1770,930.4 1796.1,944.3 1823.3,948.9 1849.5,969.4 1876,998.2 1902.6,1009.2 1928.5,1013 1955.2,1022 1981.7,1029.2 2008,1034.9 2034.3,1042.6 2061.1,1051.7 2087.5,1052.6 2113.9,1055.1 2140.4,1065.5 2166.8,1065.5 2193.2,1066.8 2219.7,1068.1 2246.1,1062.1 2272.5,1058.9 2299,1061.7 2325.4,1058.5 2351.8,1064.2 2378.3,1065.5 2404.7,1070.6 2431.1,1073.2 2457.6,1069.3 2484,1068.5" fill="none" stroke="#000" stroke-width="2.4" stroke-linejoin="round" stroke-dasharray="8.5 6.5" />
<polyline points="1691,971.7 1717.4,956.2 1743.9,975.3 1770.3,996.6 1796.7,987.6 1823.2,971.7 1849.6,980.6 1876,992.7 1902.5,1006.7 1928.9,1029.4 1955.3,1037.5 1981.8,1041.5 2008.2,1047.5 2034.6,1049.2 2061.1,1048.3 2087.5,1048.8 2113.9,1058.9 2140.4,1068.1 2166.8,1062.3 2193.2,1055.1 2219.7,1053.4 2246.1,1057.9 2272.5,1053.8 2299,1050.9 2325.4,1061.7 2351.8,1064.2 2378.3,1069.3 2404.7,1073.2 2431.1,1075.1 2457.6,1071.9 2484,1068.5" fill="none" stroke="#1414B8" stroke-width="2.4" stroke-linejoin="round" stroke-dasharray="8 3.5 2.5 3.5" />
<polyline points="1691,748.9 1717.4,755.5 1743.9,820.9 1770.3,826.6 1796.7,859.9 1823.2,929.3 1849.6,959 1876,967.1 1902.5,982.5 1928.9,997.8 1955.3,997.8 1981.8,1012.5 2008.2,1016.3 2034.6,1018.4 2061.1,1028.2 2087.5,1026.3 2113.9,1034.8 2140.4,1041.5 2166.8,1039 2193.2,1049.4 2219.7,1044.3 2246.1,1046.6 2272.5,1053.8 2299,1055.1 2325.4,1056.4 2351.8,1060.2 2378.3,1064.2 2404.7,1062.3 2431.1,1068.1 2457.6,1068.5 2484,1068.5" fill="none" stroke="#D0141C" stroke-width="2.5" stroke-linejoin="round" />
<polygon points="1691,819.6 1698.7,829.6 1691,839.6 1683.3,829.6" fill="none" stroke="#000" stroke-width="2.3"/>
<polygon points="1717.4,829.3 1725.1,839.3 1717.4,849.3 1709.7,839.3" fill="none" stroke="#000" stroke-width="2.3"/>
<polygon points="1738.7,887.6 1746.4,897.6 1738.7,907.6 1731,897.6" fill="none" stroke="#000" stroke-width="2.3"/>
<polygon points="1743.5,904.3 1751.2,914.3 1743.5,924.3 1735.8,914.3" fill="none" stroke="#000" stroke-width="2.3"/>
<polygon points="1770,920.4 1777.7,930.4 1770,940.4 1762.3,930.4" fill="none" stroke="#000" stroke-width="2.3"/>
<polygon points="1796.1,934.3 1803.8,944.3 1796.1,954.3 1788.4,944.3" fill="none" stroke="#000" stroke-width="2.3"/>
<polygon points="1823.3,938.9 1831,948.9 1823.3,958.9 1815.6,948.9" fill="none" stroke="#000" stroke-width="2.3"/>
<polygon points="1849.5,959.4 1857.2,969.4 1849.5,979.4 1841.8,969.4" fill="none" stroke="#000" stroke-width="2.3"/>
<polygon points="1876,988.2 1883.7,998.2 1876,1008.2 1868.3,998.2" fill="none" stroke="#000" stroke-width="2.3"/>
<polygon points="1902.6,999.2 1910.3,1009.2 1902.6,1019.2 1894.9,1009.2" fill="none" stroke="#000" stroke-width="2.3"/>
<polygon points="1928.5,1003 1936.2,1013 1928.5,1023 1920.8,1013" fill="none" stroke="#000" stroke-width="2.3"/>
<polygon points="1955.2,1012 1962.9,1022 1955.2,1032 1947.5,1022" fill="none" stroke="#000" stroke-width="2.3"/>
<polygon points="1981.7,1019.2 1989.4,1029.2 1981.7,1039.2 1974,1029.2" fill="none" stroke="#000" stroke-width="2.3"/>
<polygon points="2008,1024.9 2015.7,1034.9 2008,1044.9 2000.3,1034.9" fill="none" stroke="#000" stroke-width="2.3"/>
<polygon points="2034.3,1032.6 2042,1042.6 2034.3,1052.6 2026.6,1042.6" fill="none" stroke="#000" stroke-width="2.3"/>
<polygon points="2061.1,1041.7 2068.8,1051.7 2061.1,1061.7 2053.4,1051.7" fill="none" stroke="#000" stroke-width="2.3"/>
<polygon points="2087.5,1042.6 2095.2,1052.6 2087.5,1062.6 2079.8,1052.6" fill="none" stroke="#000" stroke-width="2.3"/>
<polygon points="2113.9,1045.1 2121.6,1055.1 2113.9,1065.1 2106.2,1055.1" fill="none" stroke="#000" stroke-width="2.3"/>
<polygon points="2140.4,1055.5 2148.1,1065.5 2140.4,1075.5 2132.7,1065.5" fill="none" stroke="#000" stroke-width="2.3"/>
<polygon points="2166.8,1055.5 2174.5,1065.5 2166.8,1075.5 2159.1,1065.5" fill="none" stroke="#000" stroke-width="2.3"/>
<polygon points="2193.2,1056.8 2200.9,1066.8 2193.2,1076.8 2185.5,1066.8" fill="none" stroke="#000" stroke-width="2.3"/>
<polygon points="2219.7,1058.1 2227.4,1068.1 2219.7,1078.1 2212,1068.1" fill="none" stroke="#000" stroke-width="2.3"/>
<polygon points="2246.1,1052.1 2253.8,1062.1 2246.1,1072.1 2238.4,1062.1" fill="none" stroke="#000" stroke-width="2.3"/>
<polygon points="2272.5,1048.9 2280.2,1058.9 2272.5,1068.9 2264.8,1058.9" fill="none" stroke="#000" stroke-width="2.3"/>
<polygon points="2299,1051.7 2306.7,1061.7 2299,1071.7 2291.3,1061.7" fill="none" stroke="#000" stroke-width="2.3"/>
<polygon points="2325.4,1048.5 2333.1,1058.5 2325.4,1068.5 2317.7,1058.5" fill="none" stroke="#000" stroke-width="2.3"/>
<polygon points="2351.8,1054.2 2359.5,1064.2 2351.8,1074.2 2344.1,1064.2" fill="none" stroke="#000" stroke-width="2.3"/>
<polygon points="2378.3,1055.5 2386,1065.5 2378.3,1075.5 2370.6,1065.5" fill="none" stroke="#000" stroke-width="2.3"/>
<polygon points="2404.7,1060.6 2412.4,1070.6 2404.7,1080.6 2397,1070.6" fill="none" stroke="#000" stroke-width="2.3"/>
<polygon points="2431.1,1063.2 2438.8,1073.2 2431.1,1083.2 2423.4,1073.2" fill="none" stroke="#000" stroke-width="2.3"/>
<polygon points="2457.6,1059.3 2465.3,1069.3 2457.6,1079.3 2449.9,1069.3" fill="none" stroke="#000" stroke-width="2.3"/>
<polygon points="2484,1058.5 2491.7,1068.5 2484,1078.5 2476.3,1068.5" fill="none" stroke="#000" stroke-width="2.3"/>
<circle cx="1691" cy="971.7" r="7.4" fill="none" stroke="#1414B8" stroke-width="2.4"/>
<circle cx="1717.4" cy="956.2" r="7.4" fill="none" stroke="#1414B8" stroke-width="2.4"/>
<circle cx="1743.9" cy="975.3" r="7.4" fill="none" stroke="#1414B8" stroke-width="2.4"/>
<circle cx="1770.3" cy="996.6" r="7.4" fill="none" stroke="#1414B8" stroke-width="2.4"/>
<circle cx="1796.7" cy="987.6" r="7.4" fill="none" stroke="#1414B8" stroke-width="2.4"/>
<circle cx="1823.2" cy="971.7" r="7.4" fill="none" stroke="#1414B8" stroke-width="2.4"/>
<circle cx="1849.6" cy="980.6" r="7.4" fill="none" stroke="#1414B8" stroke-width="2.4"/>
<circle cx="1876" cy="992.7" r="7.4" fill="none" stroke="#1414B8" stroke-width="2.4"/>
<circle cx="1902.5" cy="1006.7" r="7.4" fill="none" stroke="#1414B8" stroke-width="2.4"/>
<circle cx="1928.9" cy="1029.4" r="7.4" fill="none" stroke="#1414B8" stroke-width="2.4"/>
<circle cx="1955.3" cy="1037.5" r="7.4" fill="none" stroke="#1414B8" stroke-width="2.4"/>
<circle cx="1981.8" cy="1041.5" r="7.4" fill="none" stroke="#1414B8" stroke-width="2.4"/>
<circle cx="2008.2" cy="1047.5" r="7.4" fill="none" stroke="#1414B8" stroke-width="2.4"/>
<circle cx="2034.6" cy="1049.2" r="7.4" fill="none" stroke="#1414B8" stroke-width="2.4"/>
<circle cx="2061.1" cy="1048.3" r="7.4" fill="none" stroke="#1414B8" stroke-width="2.4"/>
<circle cx="2087.5" cy="1048.8" r="7.4" fill="none" stroke="#1414B8" stroke-width="2.4"/>
<circle cx="2113.9" cy="1058.9" r="7.4" fill="none" stroke="#1414B8" stroke-width="2.4"/>
<circle cx="2140.4" cy="1068.1" r="7.4" fill="none" stroke="#1414B8" stroke-width="2.4"/>
<circle cx="2166.8" cy="1062.3" r="7.4" fill="none" stroke="#1414B8" stroke-width="2.4"/>
<circle cx="2193.2" cy="1055.1" r="7.4" fill="none" stroke="#1414B8" stroke-width="2.4"/>
<circle cx="2219.7" cy="1053.4" r="7.4" fill="none" stroke="#1414B8" stroke-width="2.4"/>
<circle cx="2246.1" cy="1057.9" r="7.4" fill="none" stroke="#1414B8" stroke-width="2.4"/>
<circle cx="2272.5" cy="1053.8" r="7.4" fill="none" stroke="#1414B8" stroke-width="2.4"/>
<circle cx="2299" cy="1050.9" r="7.4" fill="none" stroke="#1414B8" stroke-width="2.4"/>
<circle cx="2325.4" cy="1061.7" r="7.4" fill="none" stroke="#1414B8" stroke-width="2.4"/>
<circle cx="2351.8" cy="1064.2" r="7.4" fill="none" stroke="#1414B8" stroke-width="2.4"/>
<circle cx="2378.3" cy="1069.3" r="7.4" fill="none" stroke="#1414B8" stroke-width="2.4"/>
<circle cx="2404.7" cy="1073.2" r="7.4" fill="none" stroke="#1414B8" stroke-width="2.4"/>
<circle cx="2431.1" cy="1075.1" r="7.4" fill="none" stroke="#1414B8" stroke-width="2.4"/>
<circle cx="2457.6" cy="1071.9" r="7.4" fill="none" stroke="#1414B8" stroke-width="2.4"/>
<circle cx="2484" cy="1068.5" r="7.4" fill="none" stroke="#1414B8" stroke-width="2.4"/>
<rect x="1684.6" y="742.5" width="12.8" height="12.8" fill="none" stroke="#D0141C" stroke-width="2.4"/>
<rect x="1711" y="749.1" width="12.8" height="12.8" fill="none" stroke="#D0141C" stroke-width="2.4"/>
<rect x="1737.5" y="814.5" width="12.8" height="12.8" fill="none" stroke="#D0141C" stroke-width="2.4"/>
<rect x="1763.9" y="820.2" width="12.8" height="12.8" fill="none" stroke="#D0141C" stroke-width="2.4"/>
<rect x="1790.3" y="853.5" width="12.8" height="12.8" fill="none" stroke="#D0141C" stroke-width="2.4"/>
<rect x="1816.8" y="922.9" width="12.8" height="12.8" fill="none" stroke="#D0141C" stroke-width="2.4"/>
<rect x="1843.2" y="952.6" width="12.8" height="12.8" fill="none" stroke="#D0141C" stroke-width="2.4"/>
<rect x="1869.6" y="960.7" width="12.8" height="12.8" fill="none" stroke="#D0141C" stroke-width="2.4"/>
<rect x="1896.1" y="976.1" width="12.8" height="12.8" fill="none" stroke="#D0141C" stroke-width="2.4"/>
<rect x="1922.5" y="991.4" width="12.8" height="12.8" fill="none" stroke="#D0141C" stroke-width="2.4"/>
<rect x="1948.9" y="991.4" width="12.8" height="12.8" fill="none" stroke="#D0141C" stroke-width="2.4"/>
<rect x="1975.4" y="1006.1" width="12.8" height="12.8" fill="none" stroke="#D0141C" stroke-width="2.4"/>
<rect x="2001.8" y="1009.9" width="12.8" height="12.8" fill="none" stroke="#D0141C" stroke-width="2.4"/>
<rect x="2028.2" y="1012" width="12.8" height="12.8" fill="none" stroke="#D0141C" stroke-width="2.4"/>
<rect x="2054.7" y="1021.8" width="12.8" height="12.8" fill="none" stroke="#D0141C" stroke-width="2.4"/>
<rect x="2081.1" y="1019.9" width="12.8" height="12.8" fill="none" stroke="#D0141C" stroke-width="2.4"/>
<rect x="2107.5" y="1028.4" width="12.8" height="12.8" fill="none" stroke="#D0141C" stroke-width="2.4"/>
<rect x="2134" y="1035.1" width="12.8" height="12.8" fill="none" stroke="#D0141C" stroke-width="2.4"/>
<rect x="2160.4" y="1032.6" width="12.8" height="12.8" fill="none" stroke="#D0141C" stroke-width="2.4"/>
<rect x="2186.8" y="1043" width="12.8" height="12.8" fill="none" stroke="#D0141C" stroke-width="2.4"/>
<rect x="2213.3" y="1037.9" width="12.8" height="12.8" fill="none" stroke="#D0141C" stroke-width="2.4"/>
<rect x="2239.7" y="1040.2" width="12.8" height="12.8" fill="none" stroke="#D0141C" stroke-width="2.4"/>
<rect x="2266.1" y="1047.4" width="12.8" height="12.8" fill="none" stroke="#D0141C" stroke-width="2.4"/>
<rect x="2292.6" y="1048.7" width="12.8" height="12.8" fill="none" stroke="#D0141C" stroke-width="2.4"/>
<rect x="2319" y="1050" width="12.8" height="12.8" fill="none" stroke="#D0141C" stroke-width="2.4"/>
<rect x="2345.4" y="1053.8" width="12.8" height="12.8" fill="none" stroke="#D0141C" stroke-width="2.4"/>
<rect x="2371.9" y="1057.8" width="12.8" height="12.8" fill="none" stroke="#D0141C" stroke-width="2.4"/>
<rect x="2398.3" y="1055.9" width="12.8" height="12.8" fill="none" stroke="#D0141C" stroke-width="2.4"/>
<rect x="2424.7" y="1061.7" width="12.8" height="12.8" fill="none" stroke="#D0141C" stroke-width="2.4"/>
<rect x="2451.2" y="1062.1" width="12.8" height="12.8" fill="none" stroke="#D0141C" stroke-width="2.4"/>
<rect x="2477.6" y="1062.1" width="12.8" height="12.8" fill="none" stroke="#D0141C" stroke-width="2.4"/>
<rect x="1691.0" y="744.1" width="793.0" height="415.6" fill="none" stroke="#222222" stroke-width="2.6"/>
<line x1="1717.4" y1="744.1" x2="1717.4" y2="749.6" stroke="#222222" stroke-width="2.4" />
<line x1="1717.4" y1="1159.7" x2="1717.4" y2="1154.2" stroke="#222222" stroke-width="2.4" />
<line x1="1743.9" y1="744.1" x2="1743.9" y2="754.1" stroke="#222222" stroke-width="2.4" />
<line x1="1743.9" y1="1159.7" x2="1743.9" y2="1149.7" stroke="#222222" stroke-width="2.4" />
<line x1="1770.3" y1="744.1" x2="1770.3" y2="749.6" stroke="#222222" stroke-width="2.4" />
<line x1="1770.3" y1="1159.7" x2="1770.3" y2="1154.2" stroke="#222222" stroke-width="2.4" />
<line x1="1796.7" y1="744.1" x2="1796.7" y2="749.6" stroke="#222222" stroke-width="2.4" />
<line x1="1796.7" y1="1159.7" x2="1796.7" y2="1154.2" stroke="#222222" stroke-width="2.4" />
<line x1="1823.2" y1="744.1" x2="1823.2" y2="749.6" stroke="#222222" stroke-width="2.4" />
<line x1="1823.2" y1="1159.7" x2="1823.2" y2="1154.2" stroke="#222222" stroke-width="2.4" />
<line x1="1849.6" y1="744.1" x2="1849.6" y2="749.6" stroke="#222222" stroke-width="2.4" />
<line x1="1849.6" y1="1159.7" x2="1849.6" y2="1154.2" stroke="#222222" stroke-width="2.4" />
<line x1="1876" y1="744.1" x2="1876" y2="749.6" stroke="#222222" stroke-width="2.4" />
<line x1="1876" y1="1159.7" x2="1876" y2="1154.2" stroke="#222222" stroke-width="2.4" />
<line x1="1902.5" y1="744.1" x2="1902.5" y2="754.1" stroke="#222222" stroke-width="2.4" />
<line x1="1902.5" y1="1159.7" x2="1902.5" y2="1149.7" stroke="#222222" stroke-width="2.4" />
<line x1="1928.9" y1="744.1" x2="1928.9" y2="749.6" stroke="#222222" stroke-width="2.4" />
<line x1="1928.9" y1="1159.7" x2="1928.9" y2="1154.2" stroke="#222222" stroke-width="2.4" />
<line x1="1955.3" y1="744.1" x2="1955.3" y2="749.6" stroke="#222222" stroke-width="2.4" />
<line x1="1955.3" y1="1159.7" x2="1955.3" y2="1154.2" stroke="#222222" stroke-width="2.4" />
<line x1="1981.8" y1="744.1" x2="1981.8" y2="749.6" stroke="#222222" stroke-width="2.4" />
<line x1="1981.8" y1="1159.7" x2="1981.8" y2="1154.2" stroke="#222222" stroke-width="2.4" />
<line x1="2008.2" y1="744.1" x2="2008.2" y2="749.6" stroke="#222222" stroke-width="2.4" />
<line x1="2008.2" y1="1159.7" x2="2008.2" y2="1154.2" stroke="#222222" stroke-width="2.4" />
<line x1="2034.6" y1="744.1" x2="2034.6" y2="749.6" stroke="#222222" stroke-width="2.4" />
<line x1="2034.6" y1="1159.7" x2="2034.6" y2="1154.2" stroke="#222222" stroke-width="2.4" />
<line x1="2061.1" y1="744.1" x2="2061.1" y2="754.1" stroke="#222222" stroke-width="2.4" />
<line x1="2061.1" y1="1159.7" x2="2061.1" y2="1149.7" stroke="#222222" stroke-width="2.4" />
<line x1="2087.5" y1="744.1" x2="2087.5" y2="749.6" stroke="#222222" stroke-width="2.4" />
<line x1="2087.5" y1="1159.7" x2="2087.5" y2="1154.2" stroke="#222222" stroke-width="2.4" />
<line x1="2113.9" y1="744.1" x2="2113.9" y2="749.6" stroke="#222222" stroke-width="2.4" />
<line x1="2113.9" y1="1159.7" x2="2113.9" y2="1154.2" stroke="#222222" stroke-width="2.4" />
<line x1="2140.4" y1="744.1" x2="2140.4" y2="749.6" stroke="#222222" stroke-width="2.4" />
<line x1="2140.4" y1="1159.7" x2="2140.4" y2="1154.2" stroke="#222222" stroke-width="2.4" />
<line x1="2166.8" y1="744.1" x2="2166.8" y2="749.6" stroke="#222222" stroke-width="2.4" />
<line x1="2166.8" y1="1159.7" x2="2166.8" y2="1154.2" stroke="#222222" stroke-width="2.4" />
<line x1="2193.2" y1="744.1" x2="2193.2" y2="749.6" stroke="#222222" stroke-width="2.4" />
<line x1="2193.2" y1="1159.7" x2="2193.2" y2="1154.2" stroke="#222222" stroke-width="2.4" />
<line x1="2219.7" y1="744.1" x2="2219.7" y2="754.1" stroke="#222222" stroke-width="2.4" />
<line x1="2219.7" y1="1159.7" x2="2219.7" y2="1149.7" stroke="#222222" stroke-width="2.4" />
<line x1="2246.1" y1="744.1" x2="2246.1" y2="749.6" stroke="#222222" stroke-width="2.4" />
<line x1="2246.1" y1="1159.7" x2="2246.1" y2="1154.2" stroke="#222222" stroke-width="2.4" />
<line x1="2272.5" y1="744.1" x2="2272.5" y2="749.6" stroke="#222222" stroke-width="2.4" />
<line x1="2272.5" y1="1159.7" x2="2272.5" y2="1154.2" stroke="#222222" stroke-width="2.4" />
<line x1="2299" y1="744.1" x2="2299" y2="749.6" stroke="#222222" stroke-width="2.4" />
<line x1="2299" y1="1159.7" x2="2299" y2="1154.2" stroke="#222222" stroke-width="2.4" />
<line x1="2325.4" y1="744.1" x2="2325.4" y2="749.6" stroke="#222222" stroke-width="2.4" />
<line x1="2325.4" y1="1159.7" x2="2325.4" y2="1154.2" stroke="#222222" stroke-width="2.4" />
<line x1="2351.8" y1="744.1" x2="2351.8" y2="749.6" stroke="#222222" stroke-width="2.4" />
<line x1="2351.8" y1="1159.7" x2="2351.8" y2="1154.2" stroke="#222222" stroke-width="2.4" />
<line x1="2378.3" y1="744.1" x2="2378.3" y2="754.1" stroke="#222222" stroke-width="2.4" />
<line x1="2378.3" y1="1159.7" x2="2378.3" y2="1149.7" stroke="#222222" stroke-width="2.4" />
<line x1="2404.7" y1="744.1" x2="2404.7" y2="749.6" stroke="#222222" stroke-width="2.4" />
<line x1="2404.7" y1="1159.7" x2="2404.7" y2="1154.2" stroke="#222222" stroke-width="2.4" />
<line x1="2431.1" y1="744.1" x2="2431.1" y2="749.6" stroke="#222222" stroke-width="2.4" />
<line x1="2431.1" y1="1159.7" x2="2431.1" y2="1154.2" stroke="#222222" stroke-width="2.4" />
<line x1="2457.6" y1="744.1" x2="2457.6" y2="749.6" stroke="#222222" stroke-width="2.4" />
<line x1="2457.6" y1="1159.7" x2="2457.6" y2="1154.2" stroke="#222222" stroke-width="2.4" />
<line x1="1691" y1="1053" x2="1700.5" y2="1053" stroke="#222222" stroke-width="2.4" />
<line x1="2484" y1="1053" x2="2474.5" y2="1053" stroke="#222222" stroke-width="2.4" />
<line x1="1691" y1="946.9" x2="1700.5" y2="946.9" stroke="#222222" stroke-width="2.4" />
<line x1="2484" y1="946.9" x2="2474.5" y2="946.9" stroke="#222222" stroke-width="2.4" />
<line x1="1691" y1="840.8" x2="1700.5" y2="840.8" stroke="#222222" stroke-width="2.4" />
<line x1="2484" y1="840.8" x2="2474.5" y2="840.8" stroke="#222222" stroke-width="2.4" />
<text transform="translate(1677,1070.5) scale(1,1.045)" font-family="Liberation Sans" font-size="43.5" font-weight="normal" font-style="normal" fill="#222222" text-anchor="end" >1</text>
<text transform="translate(1677,964.4) scale(1,1.045)" font-family="Liberation Sans" font-size="43.5" font-weight="normal" font-style="normal" fill="#222222" text-anchor="end" >1.5</text>
<text transform="translate(1677,858.3) scale(1,1.045)" font-family="Liberation Sans" font-size="43.5" font-weight="normal" font-style="normal" fill="#222222" text-anchor="end" >2</text>
<text transform="translate(1578.8,974) rotate(-90)" font-family="Liberation Sans" font-size="43" fill="#222222">q<tspan font-size="34.5" dy="22.4">0</tspan></text>
<rect x="2256.8" y="762.4" width="208.7" height="140.8" fill="#fff" stroke="#111" stroke-width="2.6"/>
<line x1="2265.3" y1="788" x2="2337.7" y2="788" stroke="#D0141C" stroke-width="2.5" />
<rect x="2294.8" y="781.6" width="12.8" height="12.8" fill="none" stroke="#D0141C" stroke-width="2.4"/>
<line x1="2265.3" y1="833" x2="2337.7" y2="833" stroke="#1414B8" stroke-width="2.4" stroke-dasharray="8 3.5 2.5 3.5"/>
<circle cx="2301.2" cy="833" r="7.4" fill="none" stroke="#1414B8" stroke-width="2.4"/>
<line x1="2265.3" y1="877" x2="2337.7" y2="877" stroke="#000" stroke-width="2.4" stroke-dasharray="14 9" stroke-dashoffset="-2"/>
<polygon points="2301.2,867 2308.9,877 2301.2,887 2293.5,877" fill="none" stroke="#000" stroke-width="2.3"/>
<text x="2344" y="801.4" font-family="Liberation Sans" font-size="33" font-weight="normal" font-style="normal" fill="#000" text-anchor="start" >#91471</text>
<text x="2344" y="846.3" font-family="Liberation Sans" font-size="33" font-weight="normal" font-style="normal" fill="#000" text-anchor="start" >#80640</text>
<text x="2344" y="890.7" font-family="Liberation Sans" font-size="33" font-weight="normal" font-style="normal" fill="#000" text-anchor="start" >#91466</text>
<rect x="1933.9" y="768.9" width="6.5" height="37.7" fill="#EE3D2B"/>
<rect x="1948.2" y="768.9" width="6.5" height="37.7" fill="#EE3D2B"/>
<rect x="1962.5" y="768.9" width="6.5" height="37.7" fill="#EE3D2B"/>
<line x1="1928.3" y1="813.8" x2="1812" y2="859.8" stroke="#DC4A3C" stroke-width="3.7" stroke-dasharray="13.7 14.2" stroke-dashoffset="0" />
<polygon points="1799.9,864.6 1818.8,847.2 1812.8,859.5 1825.6,864.4" fill="#EE3D2B" />
<text transform="translate(2155.2,1133.8) scale(0.915,1)" font-family="Liberation Sans" font-size="54.8" font-weight="bold" fill="#EE3D2B">IV</text>
<clipPath id="clipe"><rect x="1691.0" y="1177.0" width="793.0" height="415.70000000000005"/></clipPath>
<polyline points="1691,1593.1 1712.1,1569 1738.6,1515.6 1765,1518.3 1791.4,1490.5 1817.9,1499.6 1844.3,1537.6 1870.7,1519.5 1897.2,1519.5 1923.6,1557.2 1950,1543.3 1976.5,1539.4 2002.9,1497.8 2029.3,1538.8 2055.8,1482.7 2082.2,1478.5 2108.6,1518.3 2135.1,1441.4 2161.5,1388 2187.9,1379.9 2214.4,1354.8 2240.8,1348.2 2267.2,1360 2293.7,1361.8 2320.1,1365.4 2346.5,1333.4 2373,1351.5 2399.4,1343.7 2425.8,1329.5 2452.3,1328.3 2478.7,1361.8" fill="none" stroke="#000" stroke-width="2.4" stroke-linejoin="round" stroke-dasharray="8.5 6.5" clip-path="url(#clipe)"/>
<polyline points="1691,1508 1712.1,1438.1 1738.6,1461 1765,1481.2 1791.4,1470.9 1817.9,1458.9 1844.3,1489.9 1870.7,1466.1 1897.2,1432.9 1923.6,1422.7 1950,1382.3 1976.5,1405.2 2002.9,1350 2029.3,1311.7 2055.8,1246.9 2082.2,1196.2 2108.6,1251.4 2135.1,1284.6 2161.5,1274 2187.9,1250.8 2214.4,1229.1 2240.8,1190.2 2267.2,1226 2293.7,1212.2 2320.1,1256.5 2346.5,1236.6 2373,1275.8 2399.4,1315 2425.8,1289.4 2452.3,1282.1 2478.7,1261" fill="none" stroke="#1414B8" stroke-width="2.4" stroke-linejoin="round" stroke-dasharray="8 3.5 2.5 3.5" clip-path="url(#clipe)"/>
<polyline points="1738.6,1689.6 1765,1576.5 1791.4,1530.4 1817.9,1574.1 1844.3,1538.8 1870.7,1537.6 1897.2,1538.8 1923.6,1564.4 1950,1570.2 1976.5,1573.2 2002.9,1536.7 2029.3,1520.1 2055.8,1510.4 2082.2,1483.6 2108.6,1489.9 2135.1,1543.9 2161.5,1503.5 2187.9,1508 2214.4,1492.7 2240.8,1513.8 2267.2,1465.5 2293.7,1421.5 2320.1,1413.3 2346.5,1386.8 2373,1386.5 2399.4,1343.7 2425.8,1336.1 2452.3,1391.6 2478.7,1376.2" fill="none" stroke="#D0141C" stroke-width="2.5" stroke-linejoin="round" clip-path="url(#clipe)"/>
<polygon points="1712.1,1559 1719.8,1569 1712.1,1579 1704.4,1569" fill="none" stroke="#000" stroke-width="2.3"/>
<polygon points="1738.6,1505.6 1746.3,1515.6 1738.6,1525.6 1730.9,1515.6" fill="none" stroke="#000" stroke-width="2.3"/>
<polygon points="1765,1508.3 1772.7,1518.3 1765,1528.3 1757.3,1518.3" fill="none" stroke="#000" stroke-width="2.3"/>
<polygon points="1791.4,1480.5 1799.1,1490.5 1791.4,1500.5 1783.7,1490.5" fill="none" stroke="#000" stroke-width="2.3"/>
<polygon points="1817.9,1489.6 1825.6,1499.6 1817.9,1509.6 1810.2,1499.6" fill="none" stroke="#000" stroke-width="2.3"/>
<polygon points="1844.3,1527.6 1852,1537.6 1844.3,1547.6 1836.6,1537.6" fill="none" stroke="#000" stroke-width="2.3"/>
<polygon points="1870.7,1509.5 1878.4,1519.5 1870.7,1529.5 1863,1519.5" fill="none" stroke="#000" stroke-width="2.3"/>
<polygon points="1897.2,1509.5 1904.9,1519.5 1897.2,1529.5 1889.5,1519.5" fill="none" stroke="#000" stroke-width="2.3"/>
<polygon points="1923.6,1547.2 1931.3,1557.2 1923.6,1567.2 1915.9,1557.2" fill="none" stroke="#000" stroke-width="2.3"/>
<polygon points="1950,1533.3 1957.7,1543.3 1950,1553.3 1942.3,1543.3" fill="none" stroke="#000" stroke-width="2.3"/>
<polygon points="1976.5,1529.4 1984.2,1539.4 1976.5,1549.4 1968.8,1539.4" fill="none" stroke="#000" stroke-width="2.3"/>
<polygon points="2002.9,1487.8 2010.6,1497.8 2002.9,1507.8 1995.2,1497.8" fill="none" stroke="#000" stroke-width="2.3"/>
<polygon points="2029.3,1528.8 2037,1538.8 2029.3,1548.8 2021.6,1538.8" fill="none" stroke="#000" stroke-width="2.3"/>
<polygon points="2055.8,1472.7 2063.5,1482.7 2055.8,1492.7 2048.1,1482.7" fill="none" stroke="#000" stroke-width="2.3"/>
<polygon points="2082.2,1468.5 2089.9,1478.5 2082.2,1488.5 2074.5,1478.5" fill="none" stroke="#000" stroke-width="2.3"/>
<polygon points="2108.6,1508.3 2116.3,1518.3 2108.6,1528.3 2100.9,1518.3" fill="none" stroke="#000" stroke-width="2.3"/>
<polygon points="2135.1,1431.4 2142.8,1441.4 2135.1,1451.4 2127.4,1441.4" fill="none" stroke="#000" stroke-width="2.3"/>
<polygon points="2161.5,1378 2169.2,1388 2161.5,1398 2153.8,1388" fill="none" stroke="#000" stroke-width="2.3"/>
<polygon points="2187.9,1369.9 2195.6,1379.9 2187.9,1389.9 2180.2,1379.9" fill="none" stroke="#000" stroke-width="2.3"/>
<polygon points="2214.4,1344.8 2222.1,1354.8 2214.4,1364.8 2206.7,1354.8" fill="none" stroke="#000" stroke-width="2.3"/>
<polygon points="2240.8,1338.2 2248.5,1348.2 2240.8,1358.2 2233.1,1348.2" fill="none" stroke="#000" stroke-width="2.3"/>
<polygon points="2267.2,1350 2274.9,1360 2267.2,1370 2259.5,1360" fill="none" stroke="#000" stroke-width="2.3"/>
<polygon points="2293.7,1351.8 2301.4,1361.8 2293.7,1371.8 2286,1361.8" fill="none" stroke="#000" stroke-width="2.3"/>
<polygon points="2320.1,1355.4 2327.8,1365.4 2320.1,1375.4 2312.4,1365.4" fill="none" stroke="#000" stroke-width="2.3"/>
<polygon points="2346.5,1323.4 2354.2,1333.4 2346.5,1343.4 2338.8,1333.4" fill="none" stroke="#000" stroke-width="2.3"/>
<polygon points="2373,1341.5 2380.7,1351.5 2373,1361.5 2365.3,1351.5" fill="none" stroke="#000" stroke-width="2.3"/>
<polygon points="2399.4,1333.7 2407.1,1343.7 2399.4,1353.7 2391.7,1343.7" fill="none" stroke="#000" stroke-width="2.3"/>
<polygon points="2425.8,1319.5 2433.5,1329.5 2425.8,1339.5 2418.1,1329.5" fill="none" stroke="#000" stroke-width="2.3"/>
<polygon points="2452.3,1318.3 2460,1328.3 2452.3,1338.3 2444.6,1328.3" fill="none" stroke="#000" stroke-width="2.3"/>
<polygon points="2478.7,1351.8 2486.4,1361.8 2478.7,1371.8 2471,1361.8" fill="none" stroke="#000" stroke-width="2.3"/>
<circle cx="1712.1" cy="1438.1" r="7.4" fill="none" stroke="#1414B8" stroke-width="2.4"/>
<circle cx="1738.6" cy="1461" r="7.4" fill="none" stroke="#1414B8" stroke-width="2.4"/>
<circle cx="1765" cy="1481.2" r="7.4" fill="none" stroke="#1414B8" stroke-width="2.4"/>
<circle cx="1791.4" cy="1470.9" r="7.4" fill="none" stroke="#1414B8" stroke-width="2.4"/>
<circle cx="1817.9" cy="1458.9" r="7.4" fill="none" stroke="#1414B8" stroke-width="2.4"/>
<circle cx="1844.3" cy="1489.9" r="7.4" fill="none" stroke="#1414B8" stroke-width="2.4"/>
<circle cx="1870.7" cy="1466.1" r="7.4" fill="none" stroke="#1414B8" stroke-width="2.4"/>
<circle cx="1897.2" cy="1432.9" r="7.4" fill="none" stroke="#1414B8" stroke-width="2.4"/>
<circle cx="1923.6" cy="1422.7" r="7.4" fill="none" stroke="#1414B8" stroke-width="2.4"/>
<circle cx="1950" cy="1382.3" r="7.4" fill="none" stroke="#1414B8" stroke-width="2.4"/>
<circle cx="1976.5" cy="1405.2" r="7.4" fill="none" stroke="#1414B8" stroke-width="2.4"/>
<circle cx="2002.9" cy="1350" r="7.4" fill="none" stroke="#1414B8" stroke-width="2.4"/>
<circle cx="2029.3" cy="1311.7" r="7.4" fill="none" stroke="#1414B8" stroke-width="2.4"/>
<circle cx="2055.8" cy="1246.9" r="7.4" fill="none" stroke="#1414B8" stroke-width="2.4"/>
<circle cx="2082.2" cy="1196.2" r="7.4" fill="none" stroke="#1414B8" stroke-width="2.4"/>
<circle cx="2108.6" cy="1251.4" r="7.4" fill="none" stroke="#1414B8" stroke-width="2.4"/>
<circle cx="2135.1" cy="1284.6" r="7.4" fill="none" stroke="#1414B8" stroke-width="2.4"/>
<circle cx="2161.5" cy="1274" r="7.4" fill="none" stroke="#1414B8" stroke-width="2.4"/>
<circle cx="2187.9" cy="1250.8" r="7.4" fill="none" stroke="#1414B8" stroke-width="2.4"/>
<circle cx="2214.4" cy="1229.1" r="7.4" fill="none" stroke="#1414B8" stroke-width="2.4"/>
<circle cx="2240.8" cy="1190.2" r="7.4" fill="none" stroke="#1414B8" stroke-width="2.4"/>
<circle cx="2267.2" cy="1226" r="7.4" fill="none" stroke="#1414B8" stroke-width="2.4"/>
<circle cx="2293.7" cy="1212.2" r="7.4" fill="none" stroke="#1414B8" stroke-width="2.4"/>
<circle cx="2320.1" cy="1256.5" r="7.4" fill="none" stroke="#1414B8" stroke-width="2.4"/>
<circle cx="2346.5" cy="1236.6" r="7.4" fill="none" stroke="#1414B8" stroke-width="2.4"/>
<circle cx="2373" cy="1275.8" r="7.4" fill="none" stroke="#1414B8" stroke-width="2.4"/>
<circle cx="2399.4" cy="1315" r="7.4" fill="none" stroke="#1414B8" stroke-width="2.4"/>
<circle cx="2425.8" cy="1289.4" r="7.4" fill="none" stroke="#1414B8" stroke-width="2.4"/>
<circle cx="2452.3" cy="1282.1" r="7.4" fill="none" stroke="#1414B8" stroke-width="2.4"/>
<circle cx="2478.7" cy="1261" r="7.4" fill="none" stroke="#1414B8" stroke-width="2.4"/>
<rect x="1758.6" y="1570.1" width="12.8" height="12.8" fill="none" stroke="#D0141C" stroke-width="2.4"/>
<rect x="1785" y="1524" width="12.8" height="12.8" fill="none" stroke="#D0141C" stroke-width="2.4"/>
<rect x="1811.5" y="1567.7" width="12.8" height="12.8" fill="none" stroke="#D0141C" stroke-width="2.4"/>
<rect x="1837.9" y="1532.4" width="12.8" height="12.8" fill="none" stroke="#D0141C" stroke-width="2.4"/>
<rect x="1864.3" y="1531.2" width="12.8" height="12.8" fill="none" stroke="#D0141C" stroke-width="2.4"/>
<rect x="1890.8" y="1532.4" width="12.8" height="12.8" fill="none" stroke="#D0141C" stroke-width="2.4"/>
<rect x="1917.2" y="1558" width="12.8" height="12.8" fill="none" stroke="#D0141C" stroke-width="2.4"/>
<rect x="1943.6" y="1563.8" width="12.8" height="12.8" fill="none" stroke="#D0141C" stroke-width="2.4"/>
<rect x="1970.1" y="1566.8" width="12.8" height="12.8" fill="none" stroke="#D0141C" stroke-width="2.4"/>
<rect x="1996.5" y="1530.3" width="12.8" height="12.8" fill="none" stroke="#D0141C" stroke-width="2.4"/>
<rect x="2022.9" y="1513.7" width="12.8" height="12.8" fill="none" stroke="#D0141C" stroke-width="2.4"/>
<rect x="2049.4" y="1504" width="12.8" height="12.8" fill="none" stroke="#D0141C" stroke-width="2.4"/>
<rect x="2075.8" y="1477.2" width="12.8" height="12.8" fill="none" stroke="#D0141C" stroke-width="2.4"/>
<rect x="2102.2" y="1483.5" width="12.8" height="12.8" fill="none" stroke="#D0141C" stroke-width="2.4"/>
<rect x="2128.7" y="1537.5" width="12.8" height="12.8" fill="none" stroke="#D0141C" stroke-width="2.4"/>
<rect x="2155.1" y="1497.1" width="12.8" height="12.8" fill="none" stroke="#D0141C" stroke-width="2.4"/>
<rect x="2181.5" y="1501.6" width="12.8" height="12.8" fill="none" stroke="#D0141C" stroke-width="2.4"/>
<rect x="2208" y="1486.3" width="12.8" height="12.8" fill="none" stroke="#D0141C" stroke-width="2.4"/>
<rect x="2234.4" y="1507.4" width="12.8" height="12.8" fill="none" stroke="#D0141C" stroke-width="2.4"/>
<rect x="2260.8" y="1459.1" width="12.8" height="12.8" fill="none" stroke="#D0141C" stroke-width="2.4"/>
<rect x="2287.3" y="1415.1" width="12.8" height="12.8" fill="none" stroke="#D0141C" stroke-width="2.4"/>
<rect x="2313.7" y="1406.9" width="12.8" height="12.8" fill="none" stroke="#D0141C" stroke-width="2.4"/>
<rect x="2340.1" y="1380.4" width="12.8" height="12.8" fill="none" stroke="#D0141C" stroke-width="2.4"/>
<rect x="2366.6" y="1380.1" width="12.8" height="12.8" fill="none" stroke="#D0141C" stroke-width="2.4"/>
<rect x="2393" y="1337.3" width="12.8" height="12.8" fill="none" stroke="#D0141C" stroke-width="2.4"/>
<rect x="2419.4" y="1329.7" width="12.8" height="12.8" fill="none" stroke="#D0141C" stroke-width="2.4"/>
<rect x="2445.9" y="1385.2" width="12.8" height="12.8" fill="none" stroke="#D0141C" stroke-width="2.4"/>
<rect x="2472.3" y="1369.8" width="12.8" height="12.8" fill="none" stroke="#D0141C" stroke-width="2.4"/>
<rect x="1691.0" y="1177.0" width="793.0" height="415.70000000000005" fill="none" stroke="#222222" stroke-width="2.6"/>
<line x1="1717.4" y1="1177" x2="1717.4" y2="1182.5" stroke="#222222" stroke-width="2.4" />
<line x1="1717.4" y1="1592.7" x2="1717.4" y2="1587.2" stroke="#222222" stroke-width="2.4" />
<line x1="1743.9" y1="1177" x2="1743.9" y2="1187" stroke="#222222" stroke-width="2.4" />
<line x1="1743.9" y1="1592.7" x2="1743.9" y2="1582.7" stroke="#222222" stroke-width="2.4" />
<line x1="1770.3" y1="1177" x2="1770.3" y2="1182.5" stroke="#222222" stroke-width="2.4" />
<line x1="1770.3" y1="1592.7" x2="1770.3" y2="1587.2" stroke="#222222" stroke-width="2.4" />
<line x1="1796.7" y1="1177" x2="1796.7" y2="1182.5" stroke="#222222" stroke-width="2.4" />
<line x1="1796.7" y1="1592.7" x2="1796.7" y2="1587.2" stroke="#222222" stroke-width="2.4" />
<line x1="1823.2" y1="1177" x2="1823.2" y2="1182.5" stroke="#222222" stroke-width="2.4" />
<line x1="1823.2" y1="1592.7" x2="1823.2" y2="1587.2" stroke="#222222" stroke-width="2.4" />
<line x1="1849.6" y1="1177" x2="1849.6" y2="1182.5" stroke="#222222" stroke-width="2.4" />
<line x1="1849.6" y1="1592.7" x2="1849.6" y2="1587.2" stroke="#222222" stroke-width="2.4" />
<line x1="1876" y1="1177" x2="1876" y2="1182.5" stroke="#222222" stroke-width="2.4" />
<line x1="1876" y1="1592.7" x2="1876" y2="1587.2" stroke="#222222" stroke-width="2.4" />
<line x1="1902.5" y1="1177" x2="1902.5" y2="1187" stroke="#222222" stroke-width="2.4" />
<line x1="1902.5" y1="1592.7" x2="1902.5" y2="1582.7" stroke="#222222" stroke-width="2.4" />
<line x1="1928.9" y1="1177" x2="1928.9" y2="1182.5" stroke="#222222" stroke-width="2.4" />
<line x1="1928.9" y1="1592.7" x2="1928.9" y2="1587.2" stroke="#222222" stroke-width="2.4" />
<line x1="1955.3" y1="1177" x2="1955.3" y2="1182.5" stroke="#222222" stroke-width="2.4" />
<line x1="1955.3" y1="1592.7" x2="1955.3" y2="1587.2" stroke="#222222" stroke-width="2.4" />
<line x1="1981.8" y1="1177" x2="1981.8" y2="1182.5" stroke="#222222" stroke-width="2.4" />
<line x1="1981.8" y1="1592.7" x2="1981.8" y2="1587.2" stroke="#222222" stroke-width="2.4" />
<line x1="2008.2" y1="1177" x2="2008.2" y2="1182.5" stroke="#222222" stroke-width="2.4" />
<line x1="2008.2" y1="1592.7" x2="2008.2" y2="1587.2" stroke="#222222" stroke-width="2.4" />
<line x1="2034.6" y1="1177" x2="2034.6" y2="1182.5" stroke="#222222" stroke-width="2.4" />
<line x1="2034.6" y1="1592.7" x2="2034.6" y2="1587.2" stroke="#222222" stroke-width="2.4" />
<line x1="2061.1" y1="1177" x2="2061.1" y2="1187" stroke="#222222" stroke-width="2.4" />
<line x1="2061.1" y1="1592.7" x2="2061.1" y2="1582.7" stroke="#222222" stroke-width="2.4" />
<line x1="2087.5" y1="1177" x2="2087.5" y2="1182.5" stroke="#222222" stroke-width="2.4" />
<line x1="2087.5" y1="1592.7" x2="2087.5" y2="1587.2" stroke="#222222" stroke-width="2.4" />
<line x1="2113.9" y1="1177" x2="2113.9" y2="1182.5" stroke="#222222" stroke-width="2.4" />
<line x1="2113.9" y1="1592.7" x2="2113.9" y2="1587.2" stroke="#222222" stroke-width="2.4" />
<line x1="2140.4" y1="1177" x2="2140.4" y2="1182.5" stroke="#222222" stroke-width="2.4" />
<line x1="2140.4" y1="1592.7" x2="2140.4" y2="1587.2" stroke="#222222" stroke-width="2.4" />
<line x1="2166.8" y1="1177" x2="2166.8" y2="1182.5" stroke="#222222" stroke-width="2.4" />
<line x1="2166.8" y1="1592.7" x2="2166.8" y2="1587.2" stroke="#222222" stroke-width="2.4" />
<line x1="2193.2" y1="1177" x2="2193.2" y2="1182.5" stroke="#222222" stroke-width="2.4" />
<line x1="2193.2" y1="1592.7" x2="2193.2" y2="1587.2" stroke="#222222" stroke-width="2.4" />
<line x1="2219.7" y1="1177" x2="2219.7" y2="1187" stroke="#222222" stroke-width="2.4" />
<line x1="2219.7" y1="1592.7" x2="2219.7" y2="1582.7" stroke="#222222" stroke-width="2.4" />
<line x1="2246.1" y1="1177" x2="2246.1" y2="1182.5" stroke="#222222" stroke-width="2.4" />
<line x1="2246.1" y1="1592.7" x2="2246.1" y2="1587.2" stroke="#222222" stroke-width="2.4" />
<line x1="2272.5" y1="1177" x2="2272.5" y2="1182.5" stroke="#222222" stroke-width="2.4" />
<line x1="2272.5" y1="1592.7" x2="2272.5" y2="1587.2" stroke="#222222" stroke-width="2.4" />
<line x1="2299" y1="1177" x2="2299" y2="1182.5" stroke="#222222" stroke-width="2.4" />
<line x1="2299" y1="1592.7" x2="2299" y2="1587.2" stroke="#222222" stroke-width="2.4" />
<line x1="2325.4" y1="1177" x2="2325.4" y2="1182.5" stroke="#222222" stroke-width="2.4" />
<line x1="2325.4" y1="1592.7" x2="2325.4" y2="1587.2" stroke="#222222" stroke-width="2.4" />
<line x1="2351.8" y1="1177" x2="2351.8" y2="1182.5" stroke="#222222" stroke-width="2.4" />
<line x1="2351.8" y1="1592.7" x2="2351.8" y2="1587.2" stroke="#222222" stroke-width="2.4" />
<line x1="2378.3" y1="1177" x2="2378.3" y2="1187" stroke="#222222" stroke-width="2.4" />
<line x1="2378.3" y1="1592.7" x2="2378.3" y2="1582.7" stroke="#222222" stroke-width="2.4" />
<line x1="2404.7" y1="1177" x2="2404.7" y2="1182.5" stroke="#222222" stroke-width="2.4" />
<line x1="2404.7" y1="1592.7" x2="2404.7" y2="1587.2" stroke="#222222" stroke-width="2.4" />
<line x1="2431.1" y1="1177" x2="2431.1" y2="1182.5" stroke="#222222" stroke-width="2.4" />
<line x1="2431.1" y1="1592.7" x2="2431.1" y2="1587.2" stroke="#222222" stroke-width="2.4" />
<line x1="2457.6" y1="1177" x2="2457.6" y2="1182.5" stroke="#222222" stroke-width="2.4" />
<line x1="2457.6" y1="1592.7" x2="2457.6" y2="1587.2" stroke="#222222" stroke-width="2.4" />
<line x1="1691" y1="1538.8" x2="1700.5" y2="1538.8" stroke="#222222" stroke-width="2.4" />
<line x1="2484" y1="1538.8" x2="2474.5" y2="1538.8" stroke="#222222" stroke-width="2.4" />
<line x1="1691" y1="1388" x2="1700.5" y2="1388" stroke="#222222" stroke-width="2.4" />
<line x1="2484" y1="1388" x2="2474.5" y2="1388" stroke="#222222" stroke-width="2.4" />
<line x1="1691" y1="1237.2" x2="1700.5" y2="1237.2" stroke="#222222" stroke-width="2.4" />
<line x1="2484" y1="1237.2" x2="2474.5" y2="1237.2" stroke="#222222" stroke-width="2.4" />
<text transform="translate(1677,1556.3) scale(1,1.045)" font-family="Liberation Sans" font-size="43.5" font-weight="normal" font-style="normal" fill="#222222" text-anchor="end" >1.5</text>
<text transform="translate(1677,1405.5) scale(1,1.045)" font-family="Liberation Sans" font-size="43.5" font-weight="normal" font-style="normal" fill="#222222" text-anchor="end" >2</text>
<text transform="translate(1677,1254.7) scale(1,1.045)" font-family="Liberation Sans" font-size="43.5" font-weight="normal" font-style="normal" fill="#222222" text-anchor="end" >2.5</text>
<text transform="translate(1743.9,1650.8) scale(1,1.045)" font-family="Liberation Sans" font-size="43.5" font-weight="normal" font-style="normal" fill="#222222" text-anchor="middle" >0.2</text>
<text transform="translate(1902.5,1650.8) scale(1,1.045)" font-family="Liberation Sans" font-size="43.5" font-weight="normal" font-style="normal" fill="#222222" text-anchor="middle" >0.5</text>
<text transform="translate(2061.1,1650.8) scale(1,1.045)" font-family="Liberation Sans" font-size="43.5" font-weight="normal" font-style="normal" fill="#222222" text-anchor="middle" >0.8</text>
<text transform="translate(2219.7,1650.8) scale(1,1.045)" font-family="Liberation Sans" font-size="43.5" font-weight="normal" font-style="normal" fill="#222222" text-anchor="middle" >1.1</text>
<text transform="translate(2378.3,1650.8) scale(1,1.045)" font-family="Liberation Sans" font-size="43.5" font-weight="normal" font-style="normal" fill="#222222" text-anchor="middle" >1.4</text>
<text x="2024.4" y="1705.2" font-family="Liberation Sans" font-size="47" font-weight="bold" font-style="normal" fill="#222222" text-anchor="start" >t</text>
<text x="2038.5" y="1726.9" font-family="Liberation Sans" font-size="35.5" font-weight="bold" font-style="normal" fill="#222222" text-anchor="start" >ref</text>
<text x="2095.8" y="1704.7" font-family="Liberation Sans" font-size="43.5" font-weight="bold" font-style="normal" fill="#222222" text-anchor="start" >(s)</text>
<text transform="translate(1599,1454.5) rotate(-90)" font-family="Liberation Sans" font-size="44.4" fill="#222222">Ti(keV)</text>
<line x1="1976.3" y1="1039" x2="1976.3" y2="1386" stroke="#3A44E0" stroke-width="4.2" stroke-dasharray="13.7 14.2" stroke-dashoffset="0" />
<polygon points="1976.3,1398.5 1966.8,1377.5 1976.3,1386.3 1985.8,1377.5" fill="#3340EE" />
<line x1="2105.7" y1="1055.2" x2="2105.7" y2="1494" stroke="#000" stroke-width="3.6" stroke-dasharray="13.7 14.2" stroke-dashoffset="0" />
<polygon points="2105.7,1508 2095.7,1484 2105.7,1494.1 2115.7,1484" fill="#000" />
<line x1="2240.4" y1="1076" x2="2240.4" y2="1482" stroke="#DC4A3C" stroke-width="3.4" stroke-dasharray="13.7 14.2" stroke-dashoffset="0" />
<polygon points="2240.4,1496.4 2230.4,1472.4 2240.4,1482.5 2250.4,1472.4" fill="#EE3D2B" />
<text x="1492" y="66" font-family="Liberation Sans" font-size="57" font-weight="bold" font-style="normal" fill="#000" text-anchor="start" >(c)</text>
<text x="1492" y="732" font-family="Liberation Sans" font-size="57" font-weight="bold" font-style="normal" fill="#000" text-anchor="start" >(d)</text>
<text x="1492" y="1191" font-family="Liberation Sans" font-size="57" font-weight="bold" font-style="normal" fill="#000" text-anchor="start" >(e)</text>
</svg></body></html>
